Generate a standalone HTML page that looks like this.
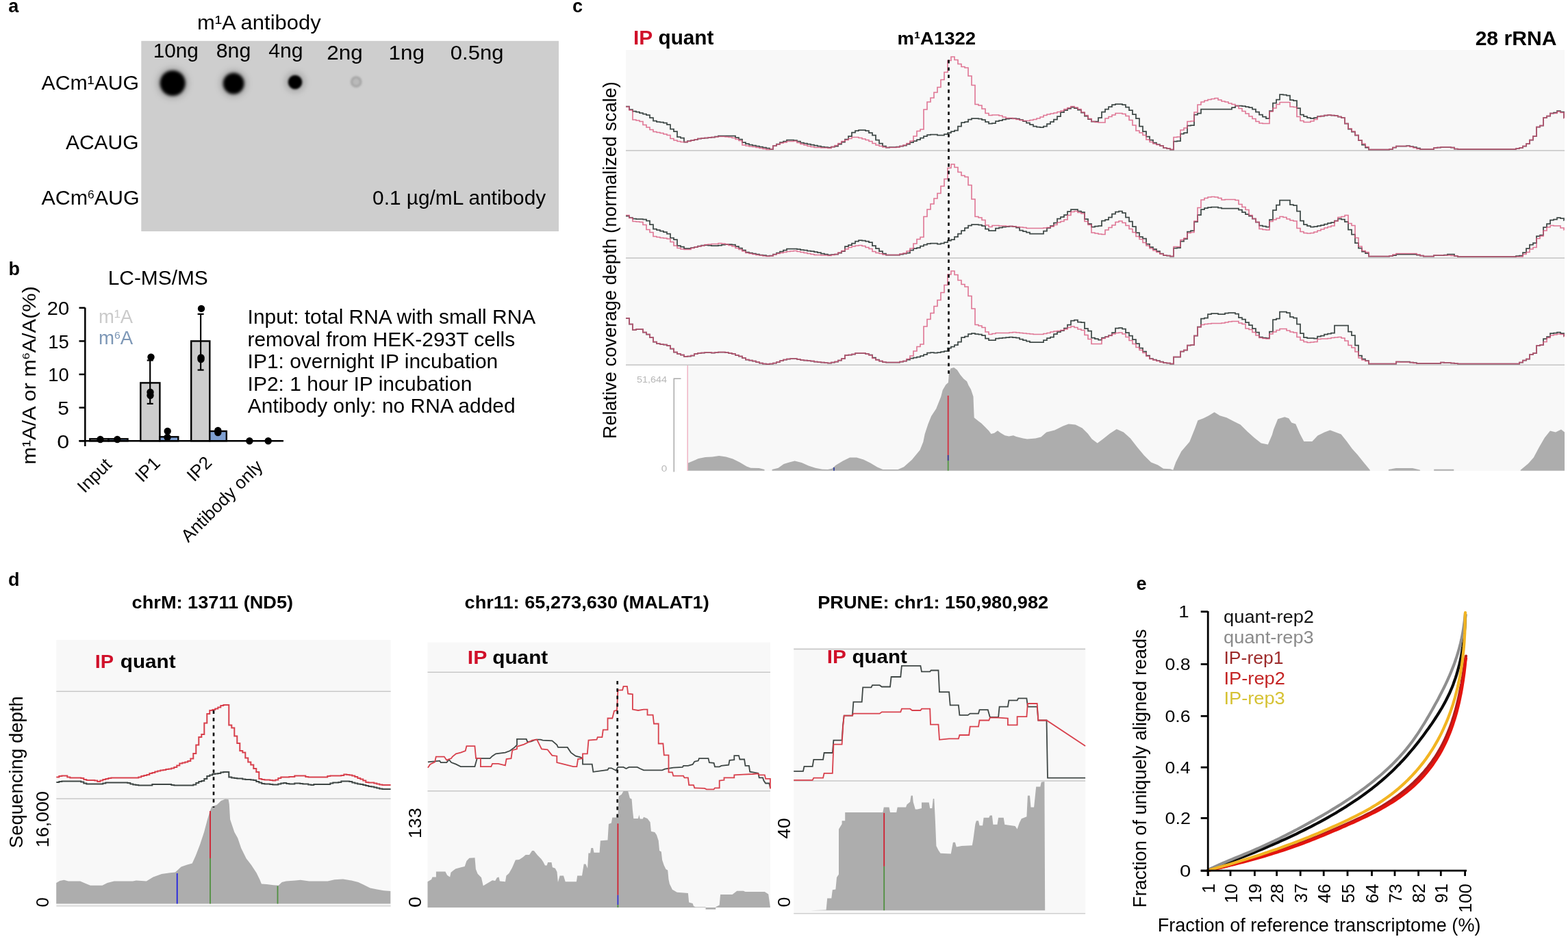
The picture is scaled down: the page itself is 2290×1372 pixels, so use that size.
<!DOCTYPE html>
<html><head><meta charset="utf-8"><style>
html,body{margin:0;padding:0;background:#fff;}
svg{display:block;font-family:"Liberation Sans", Arial, Helvetica, sans-serif;}
#w{width:2290px;height:1372px;overflow:hidden;}
</style></head><body><div id="w">
<svg width="2290" height="1372" viewBox="0 0 2290 1372">
<rect width="2290" height="1372" fill="#fff"/>
<text x="12.3" y="17.8" font-size="27" font-weight="bold" fill="#000" text-anchor="start" >a</text>
<text x="12.5" y="402" font-size="27" font-weight="bold" fill="#000" text-anchor="start" >b</text>
<text x="836" y="17.5" font-size="27" font-weight="bold" fill="#000" text-anchor="start" >c</text>
<text x="12" y="856" font-size="27" font-weight="bold" fill="#000" text-anchor="start" >d</text>
<text x="1659.5" y="861.5" font-size="27" font-weight="bold" fill="#000" text-anchor="start" >e</text>
<rect x="206.3" y="59.8" width="609.7" height="278.2" fill="#cecece"/>
<defs><filter id="blur1" x="-50%" y="-50%" width="200%" height="200%"><feGaussianBlur stdDeviation="2.3"/></filter><filter id="blur2" x="-50%" y="-50%" width="200%" height="200%"><feGaussianBlur stdDeviation="1.7"/></filter></defs>
<defs><filter id="blur3" x="-80%" y="-80%" width="260%" height="260%"><feGaussianBlur stdDeviation="4.5"/></filter></defs>
<circle cx="252.2" cy="121.5" r="23.6" fill="#000" fill-opacity="0.16" filter="url(#blur3)"/>
<circle cx="341.2" cy="122" r="20.4" fill="#000" fill-opacity="0.16" filter="url(#blur3)"/>
<circle cx="431" cy="120" r="15.3" fill="#000" fill-opacity="0.16" filter="url(#blur3)"/>
<circle cx="252.2" cy="121.5" r="18.6" fill="#000" filter="url(#blur1)"/>
<circle cx="341.2" cy="122" r="15.4" fill="#000" filter="url(#blur1)"/>
<circle cx="431" cy="120" r="10.3" fill="#000" filter="url(#blur2)"/>
<circle cx="520.2" cy="119.6" r="6.8" fill="#bababa" stroke="#9f9f9f" stroke-width="2.6" filter="url(#blur2)"/>
<text x="287.99" y="43.40" font-size="29.3" fill="#000" textLength="180.66" lengthAdjust="spacingAndGlyphs" >m¹A antibody</text>
<text x="223.67" y="84.30" font-size="28.8" fill="#000" textLength="66.26" lengthAdjust="spacingAndGlyphs" >10ng</text>
<text x="315.74" y="84.30" font-size="28.8" fill="#000" textLength="50.54" lengthAdjust="spacingAndGlyphs" >8ng</text>
<text x="392.20" y="84.30" font-size="28.8" fill="#000" textLength="50.27" lengthAdjust="spacingAndGlyphs" >4ng</text>
<text x="477.33" y="86.90" font-size="28.8" fill="#000" textLength="52.53" lengthAdjust="spacingAndGlyphs" >2ng</text>
<text x="567.54" y="86.90" font-size="28.8" fill="#000" textLength="52.41" lengthAdjust="spacingAndGlyphs" >1ng</text>
<text x="657.86" y="86.90" font-size="28.8" fill="#000" textLength="77.53" lengthAdjust="spacingAndGlyphs" >0.5ng</text>
<text x="60.50" y="130.70" font-size="29.2" fill="#000" textLength="142.58" lengthAdjust="spacingAndGlyphs" >ACm¹AUG</text>
<text x="95.90" y="217.60" font-size="29.2" fill="#000" textLength="106.74" lengthAdjust="spacingAndGlyphs" >ACAUG</text>
<text x="60.50" y="298.90" font-size="29.20" fill="#000" textLength="67.57" lengthAdjust="spacingAndGlyphs">ACm</text><text x="128.07" y="289.70" font-size="16.64" fill="#000" textLength="9.64" lengthAdjust="spacingAndGlyphs">6</text><text x="137.70" y="298.90" font-size="29.20" fill="#000" textLength="65.89" lengthAdjust="spacingAndGlyphs">AUG</text>
<text x="544.11" y="299.20" font-size="29.2" fill="#000" textLength="253.06" lengthAdjust="spacingAndGlyphs" >0.1 µg/mL antibody</text>
<text x="157.71" y="415.70" font-size="29.5" fill="#000" textLength="146.06" lengthAdjust="spacingAndGlyphs" >LC-MS/MS</text>
<line x1="124.3" y1="449.5" x2="124.3" y2="652" stroke="#000" stroke-width="2.5"/>
<line x1="115.5" y1="644.2" x2="414" y2="644.2" stroke="#000" stroke-width="2.5"/>
<line x1="115.5" y1="644.2" x2="124.3" y2="644.2" stroke="#000" stroke-width="2.5"/>
<line x1="115.5" y1="595.6" x2="124.3" y2="595.6" stroke="#000" stroke-width="2.5"/>
<line x1="115.5" y1="547.0" x2="124.3" y2="547.0" stroke="#000" stroke-width="2.5"/>
<line x1="115.5" y1="498.4" x2="124.3" y2="498.4" stroke="#000" stroke-width="2.5"/>
<line x1="115.5" y1="449.8" x2="124.3" y2="449.8" stroke="#000" stroke-width="2.5"/>
<text x="68.75" y="460.10" font-size="27.4" fill="#000" textLength="32.34" lengthAdjust="spacingAndGlyphs" >20</text>
<text x="70.23" y="508.70" font-size="27.4" fill="#000" textLength="30.63" lengthAdjust="spacingAndGlyphs" >15</text>
<text x="70.24" y="557.30" font-size="27.4" fill="#000" textLength="30.48" lengthAdjust="spacingAndGlyphs" >10</text>
<text x="84.30" y="605.90" font-size="27.4" fill="#000" textLength="16.63" lengthAdjust="spacingAndGlyphs" >5</text>
<text x="83.21" y="654.50" font-size="27.4" fill="#000" textLength="17.96" lengthAdjust="spacingAndGlyphs" >0</text>
<rect x="131.3" y="641.3" width="27.2" height="2.9" fill="#cdcdcd" stroke="#000" stroke-width="2.4"/>
<rect x="158.5" y="641.3" width="28.0" height="2.9" fill="#7fa0d2" stroke="#000" stroke-width="2.4"/>
<rect x="205.3" y="559.4" width="28.1" height="84.8" fill="#cdcdcd" stroke="#000" stroke-width="2.4"/>
<rect x="233.4" y="638.3" width="26.9" height="5.9" fill="#7fa0d2" stroke="#000" stroke-width="2.4"/>
<rect x="279.2" y="498.4" width="27.1" height="145.8" fill="#cdcdcd" stroke="#000" stroke-width="2.4"/>
<rect x="306.3" y="630.0" width="24.5" height="14.2" fill="#7fa0d2" stroke="#000" stroke-width="2.4"/>
<line x1="219.2" y1="526.5" x2="219.2" y2="589.9" stroke="#000" stroke-width="2.2"/>
<line x1="214.7" y1="526.5" x2="223.7" y2="526.5" stroke="#000" stroke-width="2.2"/>
<line x1="214.7" y1="589.9" x2="223.7" y2="589.9" stroke="#000" stroke-width="2.2"/>
<line x1="293.1" y1="458.9" x2="293.1" y2="540.6" stroke="#000" stroke-width="2.2"/>
<line x1="288.6" y1="458.9" x2="297.6" y2="458.9" stroke="#000" stroke-width="2.2"/>
<line x1="288.6" y1="540.6" x2="297.6" y2="540.6" stroke="#000" stroke-width="2.2"/>
<circle cx="146.5" cy="642" r="5.2" fill="#000"/>
<circle cx="171.3" cy="642" r="5.2" fill="#000"/>
<circle cx="220.5" cy="521.7" r="5.2" fill="#000"/>
<circle cx="219.5" cy="573" r="5.2" fill="#000"/>
<circle cx="219.5" cy="577.8" r="5.2" fill="#000"/>
<circle cx="244.7" cy="630" r="5.2" fill="#000"/>
<circle cx="244.5" cy="639" r="5.2" fill="#000"/>
<circle cx="294" cy="450.9" r="5.2" fill="#000"/>
<circle cx="293.5" cy="522.5" r="5.2" fill="#000"/>
<circle cx="293.5" cy="525" r="5.2" fill="#000"/>
<circle cx="318.3" cy="629" r="5.2" fill="#000"/>
<circle cx="318.3" cy="632" r="5.2" fill="#000"/>
<circle cx="364.4" cy="644.3" r="5.2" fill="#000"/>
<circle cx="391.7" cy="644.3" r="5.2" fill="#000"/>
<text x="143.92" y="472.00" font-size="27" fill="#cacaca" textLength="50.16" lengthAdjust="spacingAndGlyphs" >m¹A</text>
<text x="143.91" y="503.30" font-size="27.00" fill="#7d97b6" textLength="22.99" lengthAdjust="spacingAndGlyphs">m</text><text x="166.90" y="494.80" font-size="15.39" fill="#7d97b6" textLength="8.75" lengthAdjust="spacingAndGlyphs">6</text><text x="175.65" y="503.30" font-size="27.00" fill="#7d97b6" textLength="18.41" lengthAdjust="spacingAndGlyphs">A</text>
<g transform="translate(51.50,676.80) rotate(-90)"><text x="-2.00" y="0.00" font-size="27.00" fill="#000" textLength="153.65" lengthAdjust="spacingAndGlyphs">m¹A/A or m</text><text x="151.65" y="-8.51" font-size="15.39" fill="#000" textLength="9.74" lengthAdjust="spacingAndGlyphs">6</text><text x="161.40" y="0.00" font-size="27.00" fill="#000" textLength="97.31" lengthAdjust="spacingAndGlyphs">A/A(%)</text></g>
<text transform="translate(164.5,680.5) rotate(-45)" font-size="26" text-anchor="end">Input</text>
<text transform="translate(235.6,678.5) rotate(-45)" font-size="26" text-anchor="end">IP1</text>
<text transform="translate(311.1,677.5) rotate(-45)" font-size="26" text-anchor="end">IP2</text>
<text transform="translate(385.3,683) rotate(-45)" font-size="26" text-anchor="end">Antibody only</text>
<text x="361.61" y="472.90" font-size="28.6" fill="#000" textLength="420.62" lengthAdjust="spacingAndGlyphs" >Input: total RNA with small RNA</text>
<text x="361.45" y="505.70" font-size="28.6" fill="#000" textLength="390.84" lengthAdjust="spacingAndGlyphs" >removal from HEK-293T cells</text>
<text x="361.61" y="537.90" font-size="28.6" fill="#000" textLength="365.61" lengthAdjust="spacingAndGlyphs" >IP1: overnight IP incubation</text>
<text x="361.60" y="570.80" font-size="28.6" fill="#000" textLength="327.71" lengthAdjust="spacingAndGlyphs" >IP2: 1 hour IP incubation</text>
<text x="361.80" y="603.00" font-size="28.6" fill="#000" textLength="390.74" lengthAdjust="spacingAndGlyphs" >Antibody only: no RNA added</text>
<rect x="914" y="73" width="1371" height="461" fill="#f8f8f8"/>
<rect x="1004" y="534" width="1281" height="154" fill="#f8f8f8"/>
<text x="924.96" y="65.30" font-size="29" font-weight="bold" fill="#d0102a" textLength="28.23" lengthAdjust="spacingAndGlyphs" >IP</text>
<text x="961.51" y="65.30" font-size="29" font-weight="bold" fill="#000" textLength="80.94" lengthAdjust="spacingAndGlyphs" >quant</text>
<text x="1310.41" y="65.30" font-size="26.5" font-weight="bold" fill="#000" textLength="114.76" lengthAdjust="spacingAndGlyphs" >m¹A1322</text>
<text x="2154.65" y="65.50" font-size="29.7" font-weight="bold" fill="#000" textLength="118.73" lengthAdjust="spacingAndGlyphs" >28 rRNA</text>
<text transform="translate(900.20,639.10) rotate(-90)" x="-2.17" y="0" font-size="27.4" fill="#000" textLength="522.17" lengthAdjust="spacingAndGlyphs">Relative coverage depth (normalized scale)</text>
<line x1="914" y1="220" x2="2285" y2="220" stroke="#c4c4c4" stroke-width="1.6"/>
<line x1="914" y1="377" x2="2285" y2="377" stroke="#c4c4c4" stroke-width="1.6"/>
<line x1="914" y1="533.3" x2="2285" y2="533.3" stroke="#c4c4c4" stroke-width="1.6"/>
<polyline points="914.0,155.5 919.0,155.5 919.0,160.0 924.0,160.0 924.0,162.5 929.0,162.5 929.0,163.5 934.0,163.5 934.0,165.0 939.0,165.0 939.0,166.5 944.0,166.5 944.0,168.0 949.0,168.0 949.0,172.0 954.0,172.0 954.0,176.5 959.0,176.5 959.0,178.0 964.0,178.0 964.0,178.5 969.0,178.5 969.0,179.5 974.0,179.5 974.0,182.0 979.0,182.0 979.0,188.5 984.0,188.5 984.0,192.0 989.0,192.0 989.0,200.0 994.0,200.0 994.0,201.5 999.0,201.5 999.0,207.5 1004.0,207.5 1004.0,206.0 1009.0,206.0 1009.0,205.0 1014.0,205.0 1014.0,204.0 1019.0,204.0 1019.0,202.5 1024.0,202.5 1024.0,202.0 1029.0,202.0 1029.0,201.5 1034.0,201.5 1034.0,201.0 1039.0,201.0 1039.0,200.5 1044.0,200.5 1044.0,199.5 1049.0,199.5 1049.0,198.5 1074.0,198.5 1074.0,201.0 1079.0,201.0 1079.0,203.5 1084.0,203.5 1084.0,208.0 1089.0,208.0 1089.0,210.0 1094.0,210.0 1094.0,211.5 1099.0,211.5 1099.0,212.5 1104.0,212.5 1104.0,213.5 1109.0,213.5 1109.0,214.5 1114.0,214.5 1114.0,215.5 1119.0,215.5 1119.0,216.5 1124.0,216.5 1124.0,218.0 1129.0,218.0 1129.0,213.0 1134.0,213.0 1134.0,210.5 1139.0,210.5 1139.0,208.0 1144.0,208.0 1144.0,206.5 1149.0,206.5 1149.0,204.5 1159.0,204.5 1159.0,205.0 1164.0,205.0 1164.0,206.5 1169.0,206.5 1169.0,208.5 1174.0,208.5 1174.0,209.5 1179.0,209.5 1179.0,210.5 1184.0,210.5 1184.0,211.5 1189.0,211.5 1189.0,212.5 1194.0,212.5 1194.0,213.5 1199.0,213.5 1199.0,214.5 1204.0,214.5 1204.0,215.0 1209.0,215.0 1209.0,215.5 1214.0,215.5 1214.0,214.5 1219.0,214.5 1219.0,213.5 1224.0,213.5 1224.0,210.5 1229.0,210.5 1229.0,207.5 1234.0,207.5 1234.0,203.5 1239.0,203.5 1239.0,199.0 1244.0,199.0 1244.0,193.5 1249.0,193.5 1249.0,191.0 1254.0,191.0 1254.0,190.0 1264.0,190.0 1264.0,191.0 1269.0,191.0 1269.0,194.0 1274.0,194.0 1274.0,197.5 1279.0,197.5 1279.0,204.5 1284.0,204.5 1284.0,209.5 1289.0,209.5 1289.0,213.5 1294.0,213.5 1294.0,215.5 1299.0,215.5 1299.0,215.0 1309.0,215.0 1309.0,214.5 1314.0,214.5 1314.0,213.5 1319.0,213.5 1319.0,212.5 1324.0,212.5 1324.0,210.5 1329.0,210.5 1329.0,208.0 1334.0,208.0 1334.0,206.0 1339.0,206.0 1339.0,204.0 1344.0,204.0 1344.0,201.5 1349.0,201.5 1349.0,199.0 1354.0,199.0 1354.0,197.0 1359.0,197.0 1359.0,196.5 1369.0,196.5 1369.0,197.5 1379.0,197.5 1379.0,196.0 1384.0,196.0 1384.0,194.0 1389.0,194.0 1389.0,192.0 1394.0,192.0 1394.0,190.5 1399.0,190.5 1399.0,184.5 1404.0,184.5 1404.0,179.0 1409.0,179.0 1409.0,178.0 1414.0,178.0 1414.0,174.5 1419.0,174.5 1419.0,173.0 1429.0,173.0 1429.0,173.5 1434.0,173.5 1434.0,175.0 1439.0,175.0 1439.0,178.0 1444.0,178.0 1444.0,180.5 1449.0,180.5 1449.0,180.0 1454.0,180.0 1454.0,177.0 1459.0,177.0 1459.0,176.0 1464.0,176.0 1464.0,174.5 1469.0,174.5 1469.0,173.5 1474.0,173.5 1474.0,173.0 1484.0,173.0 1484.0,173.5 1489.0,173.5 1489.0,175.0 1494.0,175.0 1494.0,177.0 1499.0,177.0 1499.0,179.5 1504.0,179.5 1504.0,182.0 1509.0,182.0 1509.0,184.5 1514.0,184.5 1514.0,185.5 1519.0,185.5 1519.0,186.0 1524.0,186.0 1524.0,184.5 1529.0,184.5 1529.0,181.0 1534.0,181.0 1534.0,178.0 1539.0,178.0 1539.0,174.5 1544.0,174.5 1544.0,170.0 1549.0,170.0 1549.0,164.0 1554.0,164.0 1554.0,161.0 1559.0,161.0 1559.0,158.5 1564.0,158.5 1564.0,156.5 1569.0,156.5 1569.0,158.0 1574.0,158.0 1574.0,160.5 1579.0,160.5 1579.0,164.5 1584.0,164.5 1584.0,169.5 1589.0,169.5 1589.0,174.0 1594.0,174.0 1594.0,177.5 1604.0,177.5 1604.0,172.0 1609.0,172.0 1609.0,163.5 1614.0,163.5 1614.0,159.5 1619.0,159.5 1619.0,156.0 1624.0,156.0 1624.0,153.0 1629.0,153.0 1629.0,152.0 1639.0,152.0 1639.0,153.0 1644.0,153.0 1644.0,156.5 1649.0,156.5 1649.0,161.0 1654.0,161.0 1654.0,167.0 1659.0,167.0 1659.0,173.0 1664.0,173.0 1664.0,184.5 1669.0,184.5 1669.0,192.0 1674.0,192.0 1674.0,199.5 1679.0,199.5 1679.0,204.5 1684.0,204.5 1684.0,208.5 1689.0,208.5 1689.0,211.0 1694.0,211.0 1694.0,213.0 1699.0,213.0 1699.0,216.0 1704.0,216.0 1704.0,217.0 1709.0,217.0 1709.0,218.5 1714.0,218.5 1714.0,206.5 1719.0,206.5 1719.0,206.0 1724.0,206.0 1724.0,195.5 1729.0,195.5 1729.0,194.0 1734.0,194.0 1734.0,183.5 1739.0,183.5 1739.0,183.0 1744.0,183.0 1744.0,167.5 1749.0,167.5 1749.0,165.5 1754.0,165.5 1754.0,159.5 1799.0,159.5 1799.0,157.0 1804.0,157.0 1804.0,154.5 1814.0,154.5 1814.0,155.0 1819.0,155.0 1819.0,156.0 1824.0,156.0 1824.0,157.0 1829.0,157.0 1829.0,159.5 1834.0,159.5 1834.0,163.5 1839.0,163.5 1839.0,167.5 1844.0,167.5 1844.0,170.5 1849.0,170.5 1849.0,173.0 1854.0,173.0 1854.0,162.0 1859.0,162.0 1859.0,150.5 1864.0,150.5 1864.0,145.5 1869.0,145.5 1869.0,138.0 1874.0,138.0 1874.0,138.5 1879.0,138.5 1879.0,139.5 1884.0,139.5 1884.0,146.0 1889.0,146.0 1889.0,147.0 1894.0,147.0 1894.0,158.0 1899.0,158.0 1899.0,167.5 1904.0,167.5 1904.0,170.0 1909.0,170.0 1909.0,172.0 1914.0,172.0 1914.0,173.0 1919.0,173.0 1919.0,172.0 1924.0,172.0 1924.0,170.0 1929.0,170.0 1929.0,169.5 1934.0,169.5 1934.0,168.5 1939.0,168.5 1939.0,168.0 1944.0,168.0 1944.0,168.5 1949.0,168.5 1949.0,169.0 1954.0,169.0 1954.0,170.5 1959.0,170.5 1959.0,172.0 1964.0,172.0 1964.0,180.5 1969.0,180.5 1969.0,188.5 1974.0,188.5 1974.0,192.5 1979.0,192.5 1979.0,197.5 1984.0,197.5 1984.0,205.0 1989.0,205.0 1989.0,211.5 1994.0,211.5 1994.0,215.5 1999.0,215.5 1999.0,218.5 2029.0,218.5 2029.0,218.0 2034.0,218.0 2034.0,215.5 2039.0,215.5 2039.0,213.5 2054.0,213.5 2054.0,213.0 2059.0,213.0 2059.0,214.0 2064.0,214.0 2064.0,215.0 2069.0,215.0 2069.0,216.5 2074.0,216.5 2074.0,218.0 2094.0,218.0 2094.0,216.0 2099.0,216.0 2099.0,215.5 2104.0,215.5 2104.0,215.0 2119.0,215.0 2119.0,215.5 2124.0,215.5 2124.0,217.5 2129.0,217.5 2129.0,218.0 2214.0,218.0 2214.0,217.0 2219.0,217.0 2219.0,216.0 2224.0,216.0 2224.0,213.5 2229.0,213.5 2229.0,210.0 2234.0,210.0 2234.0,204.5 2239.0,204.5 2239.0,199.0 2244.0,199.0 2244.0,185.5 2249.0,185.5 2249.0,183.5 2254.0,183.5 2254.0,172.0 2259.0,172.0 2259.0,169.5 2264.0,169.5 2264.0,165.5 2269.0,165.5 2269.0,164.5 2274.0,164.5 2274.0,162.0 2279.0,162.0 2279.0,163.5 2284.0,163.5 2284.0,172.0 2284.1,172.0" fill="none" stroke="#3f4947" stroke-width="1.75" stroke-linejoin="miter" />
<polyline points="914.0,156.0 919.0,156.0 919.0,161.0 924.0,161.0 924.0,175.0 929.0,175.0 929.0,176.0 934.0,176.0 934.0,177.5 939.0,177.5 939.0,182.5 944.0,182.5 944.0,186.0 949.0,186.0 949.0,189.5 954.0,189.5 954.0,192.5 959.0,192.5 959.0,193.5 964.0,193.5 964.0,194.5 969.0,194.5 969.0,196.0 974.0,196.0 974.0,197.5 979.0,197.5 979.0,202.5 984.0,202.5 984.0,205.0 989.0,205.0 989.0,206.5 994.0,206.5 994.0,207.5 1004.0,207.5 1004.0,206.5 1009.0,206.5 1009.0,205.0 1014.0,205.0 1014.0,204.0 1019.0,204.0 1019.0,202.5 1024.0,202.5 1024.0,202.0 1029.0,202.0 1029.0,201.5 1034.0,201.5 1034.0,201.0 1039.0,201.0 1039.0,200.5 1044.0,200.5 1044.0,200.0 1049.0,200.0 1049.0,199.5 1059.0,199.5 1059.0,200.0 1064.0,200.0 1064.0,200.5 1069.0,200.5 1069.0,201.5 1074.0,201.5 1074.0,203.5 1079.0,203.5 1079.0,205.5 1084.0,205.5 1084.0,212.0 1089.0,212.0 1089.0,213.0 1094.0,213.0 1094.0,214.0 1099.0,214.0 1099.0,214.5 1104.0,214.5 1104.0,215.5 1109.0,215.5 1109.0,216.5 1114.0,216.5 1114.0,217.5 1119.0,217.5 1119.0,218.5 1124.0,218.5 1124.0,218.0 1129.0,218.0 1129.0,213.0 1134.0,213.0 1134.0,211.0 1139.0,211.0 1139.0,209.0 1144.0,209.0 1144.0,208.0 1149.0,208.0 1149.0,206.5 1159.0,206.5 1159.0,206.0 1164.0,206.0 1164.0,208.5 1169.0,208.5 1169.0,210.5 1174.0,210.5 1174.0,212.0 1179.0,212.0 1179.0,213.5 1184.0,213.5 1184.0,214.5 1189.0,214.5 1189.0,215.5 1199.0,215.5 1199.0,216.0 1209.0,216.0 1209.0,216.5 1214.0,216.5 1214.0,214.5 1219.0,214.5 1219.0,212.5 1224.0,212.5 1224.0,209.5 1229.0,209.5 1229.0,206.5 1234.0,206.5 1234.0,204.5 1239.0,204.5 1239.0,202.5 1244.0,202.5 1244.0,200.5 1254.0,200.5 1254.0,201.5 1259.0,201.5 1259.0,203.0 1264.0,203.0 1264.0,204.5 1269.0,204.5 1269.0,206.5 1274.0,206.5 1274.0,209.5 1279.0,209.5 1279.0,212.0 1284.0,212.0 1284.0,213.5 1289.0,213.5 1289.0,215.0 1294.0,215.0 1294.0,215.5 1309.0,215.5 1309.0,215.0 1314.0,215.0 1314.0,213.5 1319.0,213.5 1319.0,212.0 1324.0,212.0 1324.0,209.5 1329.0,209.5 1329.0,206.0 1334.0,206.0 1334.0,199.0 1339.0,199.0 1339.0,191.5 1344.0,191.5 1344.0,189.0 1349.0,189.0 1349.0,160.0 1354.0,160.0 1354.0,149.0 1359.0,149.0 1359.0,143.0 1364.0,143.0 1364.0,135.0 1369.0,135.0 1369.0,127.5 1374.0,127.5 1374.0,116.5 1379.0,116.5 1379.0,105.5 1384.0,105.5 1384.0,88.5 1389.0,88.5 1389.0,83.0 1394.0,83.0 1394.0,87.5 1399.0,87.5 1399.0,93.5 1404.0,93.5 1404.0,97.5 1409.0,97.5 1409.0,99.0 1414.0,99.0 1414.0,111.0 1419.0,111.0 1419.0,124.5 1424.0,124.5 1424.0,152.5 1429.0,152.5 1429.0,154.0 1434.0,154.0 1434.0,159.0 1439.0,159.0 1439.0,165.5 1444.0,165.5 1444.0,168.5 1449.0,168.5 1449.0,168.0 1459.0,168.0 1459.0,169.0 1464.0,169.0 1464.0,171.0 1469.0,171.0 1469.0,172.5 1479.0,172.5 1479.0,173.5 1484.0,173.5 1484.0,174.5 1489.0,174.5 1489.0,175.5 1494.0,175.5 1494.0,176.5 1504.0,176.5 1504.0,175.5 1509.0,175.5 1509.0,174.5 1514.0,174.5 1514.0,173.0 1519.0,173.0 1519.0,171.0 1524.0,171.0 1524.0,168.5 1529.0,168.5 1529.0,167.0 1534.0,167.0 1534.0,166.0 1539.0,166.0 1539.0,165.0 1544.0,165.0 1544.0,163.5 1549.0,163.5 1549.0,162.0 1554.0,162.0 1554.0,159.5 1559.0,159.5 1559.0,157.5 1564.0,157.5 1564.0,155.5 1569.0,155.5 1569.0,157.0 1574.0,157.0 1574.0,159.5 1579.0,159.5 1579.0,164.0 1584.0,164.0 1584.0,168.5 1589.0,168.5 1589.0,173.5 1594.0,173.5 1594.0,177.5 1599.0,177.5 1599.0,178.5 1604.0,178.5 1604.0,179.0 1614.0,179.0 1614.0,173.0 1619.0,173.0 1619.0,170.5 1624.0,170.5 1624.0,168.0 1629.0,168.0 1629.0,165.5 1639.0,165.5 1639.0,166.5 1644.0,166.5 1644.0,169.5 1649.0,169.5 1649.0,175.5 1654.0,175.5 1654.0,183.0 1659.0,183.0 1659.0,191.0 1664.0,191.0 1664.0,194.0 1669.0,194.0 1669.0,197.5 1674.0,197.5 1674.0,204.0 1679.0,204.0 1679.0,207.5 1684.0,207.5 1684.0,210.0 1689.0,210.0 1689.0,211.5 1694.0,211.5 1694.0,213.0 1699.0,213.0 1699.0,216.0 1704.0,216.0 1704.0,217.0 1709.0,217.0 1709.0,218.5 1714.0,218.5 1714.0,200.5 1719.0,200.5 1719.0,200.0 1724.0,200.0 1724.0,190.0 1729.0,190.0 1729.0,187.0 1734.0,187.0 1734.0,177.5 1739.0,177.5 1739.0,177.0 1744.0,177.0 1744.0,164.0 1749.0,164.0 1749.0,153.0 1754.0,153.0 1754.0,149.0 1759.0,149.0 1759.0,147.0 1764.0,147.0 1764.0,145.5 1769.0,145.5 1769.0,144.5 1774.0,144.5 1774.0,143.5 1779.0,143.5 1779.0,146.0 1784.0,146.0 1784.0,148.0 1789.0,148.0 1789.0,149.0 1794.0,149.0 1794.0,151.0 1799.0,151.0 1799.0,152.5 1804.0,152.5 1804.0,154.5 1809.0,154.5 1809.0,158.5 1814.0,158.5 1814.0,162.5 1819.0,162.5 1819.0,166.0 1824.0,166.0 1824.0,170.0 1829.0,170.0 1829.0,173.5 1834.0,173.5 1834.0,177.5 1839.0,177.5 1839.0,180.0 1844.0,180.0 1844.0,180.5 1854.0,180.5 1854.0,163.0 1859.0,163.0 1859.0,158.0 1864.0,158.0 1864.0,152.5 1869.0,152.5 1869.0,149.5 1884.0,149.5 1884.0,156.0 1889.0,156.0 1889.0,156.5 1894.0,156.5 1894.0,170.5 1899.0,170.5 1899.0,176.5 1904.0,176.5 1904.0,178.5 1914.0,178.5 1914.0,177.0 1919.0,177.0 1919.0,174.5 1924.0,174.5 1924.0,170.5 1929.0,170.5 1929.0,169.5 1934.0,169.5 1934.0,168.5 1939.0,168.5 1939.0,168.0 1944.0,168.0 1944.0,168.5 1949.0,168.5 1949.0,169.0 1954.0,169.0 1954.0,170.5 1959.0,170.5 1959.0,172.0 1964.0,172.0 1964.0,180.5 1969.0,180.5 1969.0,188.0 1974.0,188.0 1974.0,192.0 1979.0,192.0 1979.0,197.5 1984.0,197.5 1984.0,205.0 1989.0,205.0 1989.0,210.0 1994.0,210.0 1994.0,214.5 1999.0,214.5 1999.0,218.5 2029.0,218.5 2029.0,218.0 2034.0,218.0 2034.0,215.5 2039.0,215.5 2039.0,213.5 2059.0,213.5 2059.0,214.5 2064.0,214.5 2064.0,216.0 2069.0,216.0 2069.0,217.5 2074.0,217.5 2074.0,218.0 2094.0,218.0 2094.0,216.0 2099.0,216.0 2099.0,215.5 2104.0,215.5 2104.0,215.0 2119.0,215.0 2119.0,215.5 2124.0,215.5 2124.0,217.5 2129.0,217.5 2129.0,218.0 2214.0,218.0 2214.0,217.0 2219.0,217.0 2219.0,216.0 2224.0,216.0 2224.0,213.5 2229.0,213.5 2229.0,210.0 2234.0,210.0 2234.0,204.5 2239.0,204.5 2239.0,199.0 2244.0,199.0 2244.0,185.5 2249.0,185.5 2249.0,183.5 2254.0,183.5 2254.0,172.0 2259.0,172.0 2259.0,169.5 2264.0,169.5 2264.0,165.5 2274.0,165.5 2274.0,163.0 2279.0,163.0 2279.0,164.5 2284.0,164.5 2284.0,173.0 2284.1,173.0" fill="none" stroke="#d9587e" stroke-width="1.6" stroke-linejoin="miter" stroke-opacity="0.82"/>
<polyline points="914.0,315.5 919.0,315.5 919.0,318.0 924.0,318.0 924.0,319.5 929.0,319.5 929.0,320.0 939.0,320.0 939.0,320.5 944.0,320.5 944.0,322.5 949.0,322.5 949.0,328.0 954.0,328.0 954.0,334.5 959.0,334.5 959.0,336.0 964.0,336.0 964.0,337.5 969.0,337.5 969.0,339.0 974.0,339.0 974.0,341.5 979.0,341.5 979.0,347.5 984.0,347.5 984.0,350.0 989.0,350.0 989.0,359.0 994.0,359.0 994.0,360.5 999.0,360.5 999.0,363.0 1009.0,363.0 1009.0,362.0 1014.0,362.0 1014.0,361.0 1019.0,361.0 1019.0,359.5 1024.0,359.5 1024.0,358.5 1029.0,358.5 1029.0,358.0 1034.0,358.0 1034.0,358.5 1039.0,358.5 1039.0,359.0 1049.0,359.0 1049.0,358.5 1054.0,358.5 1054.0,357.5 1059.0,357.5 1059.0,357.0 1069.0,357.0 1069.0,357.5 1074.0,357.5 1074.0,360.0 1079.0,360.0 1079.0,362.5 1084.0,362.5 1084.0,365.5 1089.0,365.5 1089.0,368.5 1094.0,368.5 1094.0,369.5 1099.0,369.5 1099.0,370.5 1104.0,370.5 1104.0,371.5 1109.0,371.5 1109.0,372.5 1114.0,372.5 1114.0,373.0 1119.0,373.0 1119.0,374.0 1124.0,374.0 1124.0,373.5 1129.0,373.5 1129.0,371.5 1134.0,371.5 1134.0,369.5 1139.0,369.5 1139.0,367.5 1144.0,367.5 1144.0,365.5 1149.0,365.5 1149.0,363.5 1164.0,363.5 1164.0,364.0 1169.0,364.0 1169.0,365.0 1174.0,365.0 1174.0,365.5 1179.0,365.5 1179.0,366.5 1184.0,366.5 1184.0,367.0 1189.0,367.0 1189.0,368.0 1194.0,368.0 1194.0,369.0 1199.0,369.0 1199.0,370.5 1204.0,370.5 1204.0,371.5 1209.0,371.5 1209.0,372.5 1214.0,372.5 1214.0,372.0 1219.0,372.0 1219.0,371.5 1224.0,371.5 1224.0,369.5 1229.0,369.5 1229.0,367.0 1234.0,367.0 1234.0,360.0 1239.0,360.0 1239.0,358.0 1244.0,358.0 1244.0,355.5 1249.0,355.5 1249.0,352.5 1254.0,352.5 1254.0,351.0 1259.0,351.0 1259.0,351.5 1264.0,351.5 1264.0,352.5 1269.0,352.5 1269.0,354.0 1274.0,354.0 1274.0,359.0 1279.0,359.0 1279.0,363.0 1284.0,363.0 1284.0,367.0 1289.0,367.0 1289.0,370.5 1294.0,370.5 1294.0,372.5 1314.0,372.5 1314.0,371.5 1319.0,371.5 1319.0,370.5 1324.0,370.5 1324.0,369.5 1329.0,369.5 1329.0,365.5 1334.0,365.5 1334.0,363.0 1339.0,363.0 1339.0,362.0 1344.0,362.0 1344.0,359.5 1349.0,359.5 1349.0,357.5 1354.0,357.5 1354.0,356.0 1359.0,356.0 1359.0,355.5 1369.0,355.5 1369.0,356.5 1374.0,356.5 1374.0,355.5 1379.0,355.5 1379.0,354.0 1384.0,354.0 1384.0,351.5 1389.0,351.5 1389.0,350.0 1394.0,350.0 1394.0,346.0 1399.0,346.0 1399.0,341.5 1404.0,341.5 1404.0,337.0 1409.0,337.0 1409.0,333.0 1414.0,333.0 1414.0,329.5 1419.0,329.5 1419.0,328.0 1429.0,328.0 1429.0,328.5 1434.0,328.5 1434.0,330.0 1439.0,330.0 1439.0,334.5 1444.0,334.5 1444.0,337.0 1454.0,337.0 1454.0,333.5 1459.0,333.5 1459.0,332.5 1464.0,332.5 1464.0,331.5 1469.0,331.5 1469.0,331.0 1474.0,331.0 1474.0,330.5 1479.0,330.5 1479.0,331.0 1484.0,331.0 1484.0,332.5 1489.0,332.5 1489.0,336.5 1494.0,336.5 1494.0,338.0 1499.0,338.0 1499.0,339.5 1504.0,339.5 1504.0,341.5 1524.0,341.5 1524.0,337.5 1529.0,337.5 1529.0,333.0 1534.0,333.0 1534.0,330.0 1539.0,330.0 1539.0,325.5 1544.0,325.5 1544.0,319.5 1549.0,319.5 1549.0,317.0 1554.0,317.0 1554.0,314.0 1559.0,314.0 1559.0,309.0 1564.0,309.0 1564.0,306.0 1574.0,306.0 1574.0,308.5 1579.0,308.5 1579.0,310.0 1584.0,310.0 1584.0,320.0 1589.0,320.0 1589.0,327.0 1594.0,327.0 1594.0,331.5 1599.0,331.5 1599.0,330.5 1604.0,330.5 1604.0,330.0 1609.0,330.0 1609.0,322.5 1614.0,322.5 1614.0,321.0 1619.0,321.0 1619.0,317.5 1624.0,317.5 1624.0,312.5 1629.0,312.5 1629.0,309.5 1634.0,309.5 1634.0,308.5 1639.0,308.5 1639.0,311.0 1644.0,311.0 1644.0,317.5 1649.0,317.5 1649.0,323.5 1654.0,323.5 1654.0,331.0 1659.0,331.0 1659.0,340.0 1664.0,340.0 1664.0,346.0 1669.0,346.0 1669.0,348.5 1674.0,348.5 1674.0,356.5 1679.0,356.5 1679.0,361.0 1684.0,361.0 1684.0,364.0 1689.0,364.0 1689.0,367.0 1694.0,367.0 1694.0,370.5 1699.0,370.5 1699.0,373.0 1704.0,373.0 1704.0,373.5 1709.0,373.5 1709.0,374.5 1714.0,374.5 1714.0,362.5 1719.0,362.5 1719.0,362.0 1724.0,362.0 1724.0,352.5 1729.0,352.5 1729.0,349.0 1734.0,349.0 1734.0,338.5 1739.0,338.5 1739.0,337.0 1744.0,337.0 1744.0,324.0 1749.0,324.0 1749.0,314.0 1754.0,314.0 1754.0,306.0 1759.0,306.0 1759.0,304.0 1764.0,304.0 1764.0,303.0 1769.0,303.0 1769.0,302.5 1779.0,302.5 1779.0,303.5 1784.0,303.5 1784.0,304.5 1809.0,304.5 1809.0,306.5 1814.0,306.5 1814.0,310.0 1819.0,310.0 1819.0,313.0 1824.0,313.0 1824.0,315.5 1829.0,315.5 1829.0,319.5 1834.0,319.5 1834.0,324.5 1839.0,324.5 1839.0,329.5 1844.0,329.5 1844.0,330.5 1849.0,330.5 1849.0,331.5 1854.0,331.5 1854.0,321.0 1859.0,321.0 1859.0,307.0 1864.0,307.0 1864.0,299.5 1869.0,299.5 1869.0,292.5 1884.0,292.5 1884.0,299.0 1889.0,299.0 1889.0,300.0 1894.0,300.0 1894.0,308.5 1899.0,308.5 1899.0,322.5 1904.0,322.5 1904.0,328.0 1909.0,328.0 1909.0,330.0 1914.0,330.0 1914.0,331.5 1919.0,331.5 1919.0,331.0 1924.0,331.0 1924.0,330.0 1929.0,330.0 1929.0,329.0 1934.0,329.0 1934.0,327.5 1939.0,327.5 1939.0,326.0 1944.0,326.0 1944.0,325.0 1949.0,325.0 1949.0,322.5 1954.0,322.5 1954.0,319.5 1959.0,319.5 1959.0,320.5 1964.0,320.5 1964.0,324.0 1969.0,324.0 1969.0,335.5 1974.0,335.5 1974.0,342.5 1979.0,342.5 1979.0,355.0 1984.0,355.0 1984.0,362.5 1989.0,362.5 1989.0,367.5 1994.0,367.5 1994.0,370.0 1999.0,370.0 1999.0,374.5 2029.0,374.5 2029.0,374.0 2034.0,374.0 2034.0,373.0 2039.0,373.0 2039.0,371.5 2069.0,371.5 2069.0,372.5 2074.0,372.5 2074.0,373.5 2079.0,373.5 2079.0,374.5 2094.0,374.5 2094.0,373.0 2109.0,373.0 2109.0,372.5 2114.0,372.5 2114.0,371.5 2124.0,371.5 2124.0,374.0 2129.0,374.0 2129.0,375.0 2214.0,375.0 2214.0,374.0 2219.0,374.0 2219.0,373.5 2224.0,373.5 2224.0,369.0 2229.0,369.0 2229.0,363.0 2234.0,363.0 2234.0,357.5 2239.0,357.5 2239.0,355.0 2244.0,355.0 2244.0,345.0 2249.0,345.0 2249.0,343.5 2254.0,343.5 2254.0,332.0 2259.0,332.0 2259.0,327.0 2264.0,327.0 2264.0,321.5 2269.0,321.5 2269.0,320.5 2274.0,320.5 2274.0,318.0 2279.0,318.0 2279.0,319.0 2284.0,319.0 2284.0,322.0 2284.4,322.0" fill="none" stroke="#3f4947" stroke-width="1.75" stroke-linejoin="miter" />
<polyline points="914.0,314.5 919.0,314.5 919.0,318.5 924.0,318.5 924.0,323.5 929.0,323.5 929.0,324.0 934.0,324.0 934.0,324.5 939.0,324.5 939.0,328.5 944.0,328.5 944.0,335.5 949.0,335.5 949.0,339.5 954.0,339.5 954.0,345.5 959.0,345.5 959.0,346.5 964.0,346.5 964.0,347.5 969.0,347.5 969.0,348.0 974.0,348.0 974.0,349.0 979.0,349.0 979.0,353.5 984.0,353.5 984.0,359.0 989.0,359.0 989.0,362.5 994.0,362.5 994.0,364.0 999.0,364.0 999.0,364.5 1009.0,364.5 1009.0,362.5 1014.0,362.5 1014.0,361.0 1019.0,361.0 1019.0,360.0 1024.0,360.0 1024.0,359.0 1029.0,359.0 1029.0,357.5 1034.0,357.5 1034.0,357.0 1039.0,357.0 1039.0,356.5 1049.0,356.5 1049.0,355.5 1054.0,355.5 1054.0,356.0 1059.0,356.0 1059.0,357.0 1064.0,357.0 1064.0,358.5 1069.0,358.5 1069.0,360.0 1074.0,360.0 1074.0,362.5 1079.0,362.5 1079.0,364.5 1084.0,364.5 1084.0,367.0 1089.0,367.0 1089.0,369.5 1094.0,369.5 1094.0,370.5 1099.0,370.5 1099.0,371.5 1104.0,371.5 1104.0,372.5 1109.0,372.5 1109.0,373.0 1114.0,373.0 1114.0,374.0 1119.0,374.0 1119.0,374.5 1124.0,374.5 1124.0,374.0 1129.0,374.0 1129.0,372.0 1134.0,372.0 1134.0,370.5 1139.0,370.5 1139.0,369.5 1144.0,369.5 1144.0,368.5 1149.0,368.5 1149.0,367.5 1154.0,367.5 1154.0,367.0 1159.0,367.0 1159.0,366.5 1164.0,366.5 1164.0,367.5 1169.0,367.5 1169.0,368.5 1174.0,368.5 1174.0,369.5 1179.0,369.5 1179.0,370.5 1184.0,370.5 1184.0,371.5 1189.0,371.5 1189.0,372.5 1199.0,372.5 1199.0,373.0 1209.0,373.0 1209.0,373.5 1214.0,373.5 1214.0,372.5 1219.0,372.5 1219.0,371.5 1224.0,371.5 1224.0,369.0 1229.0,369.0 1229.0,366.5 1234.0,366.5 1234.0,364.0 1239.0,364.0 1239.0,361.5 1244.0,361.5 1244.0,360.0 1249.0,360.0 1249.0,359.0 1254.0,359.0 1254.0,358.5 1259.0,358.5 1259.0,359.5 1264.0,359.5 1264.0,361.5 1269.0,361.5 1269.0,363.5 1274.0,363.5 1274.0,367.5 1279.0,367.5 1279.0,369.5 1284.0,369.5 1284.0,370.5 1289.0,370.5 1289.0,372.0 1294.0,372.0 1294.0,372.5 1314.0,372.5 1314.0,371.0 1319.0,371.0 1319.0,370.0 1324.0,370.0 1324.0,367.0 1329.0,367.0 1329.0,363.0 1334.0,363.0 1334.0,356.0 1339.0,356.0 1339.0,349.5 1344.0,349.5 1344.0,346.5 1349.0,346.5 1349.0,316.5 1354.0,316.5 1354.0,306.0 1359.0,306.0 1359.0,298.0 1364.0,298.0 1364.0,290.0 1369.0,290.0 1369.0,282.5 1374.0,282.5 1374.0,272.0 1379.0,272.0 1379.0,261.5 1384.0,261.5 1384.0,245.5 1389.0,245.5 1389.0,240.0 1394.0,240.0 1394.0,244.5 1399.0,244.5 1399.0,251.5 1404.0,251.5 1404.0,256.5 1409.0,256.5 1409.0,258.5 1414.0,258.5 1414.0,270.5 1419.0,270.5 1419.0,291.0 1424.0,291.0 1424.0,316.5 1429.0,316.5 1429.0,318.0 1434.0,318.0 1434.0,321.5 1439.0,321.5 1439.0,329.0 1444.0,329.0 1444.0,331.5 1449.0,331.5 1449.0,329.5 1459.0,329.5 1459.0,330.0 1469.0,330.0 1469.0,330.5 1479.0,330.5 1479.0,331.0 1484.0,331.0 1484.0,331.5 1489.0,331.5 1489.0,332.0 1494.0,332.0 1494.0,332.5 1499.0,332.5 1499.0,333.5 1524.0,333.5 1524.0,333.0 1529.0,333.0 1529.0,332.5 1534.0,332.5 1534.0,331.0 1539.0,331.0 1539.0,328.5 1544.0,328.5 1544.0,325.0 1549.0,325.0 1549.0,323.5 1554.0,323.5 1554.0,321.0 1559.0,321.0 1559.0,314.5 1564.0,314.5 1564.0,309.5 1569.0,309.5 1569.0,308.5 1574.0,308.5 1574.0,310.5 1579.0,310.5 1579.0,312.0 1584.0,312.0 1584.0,323.5 1589.0,323.5 1589.0,328.5 1594.0,328.5 1594.0,340.0 1599.0,340.0 1599.0,341.0 1604.0,341.0 1604.0,342.0 1609.0,342.0 1609.0,342.5 1614.0,342.5 1614.0,336.0 1619.0,336.0 1619.0,332.5 1624.0,332.5 1624.0,329.0 1629.0,329.0 1629.0,324.5 1634.0,324.5 1634.0,323.0 1639.0,323.0 1639.0,325.5 1644.0,325.5 1644.0,329.5 1649.0,329.5 1649.0,334.5 1654.0,334.5 1654.0,339.5 1659.0,339.5 1659.0,345.5 1664.0,345.5 1664.0,349.5 1669.0,349.5 1669.0,354.5 1674.0,354.5 1674.0,359.0 1679.0,359.0 1679.0,363.0 1684.0,363.0 1684.0,366.0 1689.0,366.0 1689.0,368.5 1694.0,368.5 1694.0,371.0 1699.0,371.0 1699.0,373.0 1704.0,373.0 1704.0,373.5 1709.0,373.5 1709.0,374.5 1714.0,374.5 1714.0,360.5 1724.0,360.5 1724.0,350.5 1729.0,350.5 1729.0,348.0 1734.0,348.0 1734.0,340.5 1739.0,340.5 1739.0,339.5 1744.0,339.5 1744.0,323.0 1749.0,323.0 1749.0,303.5 1754.0,303.5 1754.0,292.0 1759.0,292.0 1759.0,289.5 1764.0,289.5 1764.0,288.0 1769.0,288.0 1769.0,287.5 1774.0,287.5 1774.0,288.0 1779.0,288.0 1779.0,289.5 1784.0,289.5 1784.0,292.0 1789.0,292.0 1789.0,291.5 1804.0,291.5 1804.0,292.5 1809.0,292.5 1809.0,298.5 1814.0,298.5 1814.0,302.5 1819.0,302.5 1819.0,306.5 1824.0,306.5 1824.0,314.5 1829.0,314.5 1829.0,319.5 1834.0,319.5 1834.0,324.5 1839.0,324.5 1839.0,334.5 1844.0,334.5 1844.0,335.5 1849.0,335.5 1849.0,336.0 1854.0,336.0 1854.0,323.5 1859.0,323.5 1859.0,321.0 1864.0,321.0 1864.0,319.0 1869.0,319.0 1869.0,316.5 1874.0,316.5 1874.0,317.5 1879.0,317.5 1879.0,320.0 1884.0,320.0 1884.0,322.0 1889.0,322.0 1889.0,323.0 1894.0,323.0 1894.0,333.5 1899.0,333.5 1899.0,338.5 1904.0,338.5 1904.0,340.5 1909.0,340.5 1909.0,341.0 1914.0,341.0 1914.0,340.5 1919.0,340.5 1919.0,339.0 1924.0,339.0 1924.0,337.0 1929.0,337.0 1929.0,335.0 1934.0,335.0 1934.0,333.0 1939.0,333.0 1939.0,331.5 1944.0,331.5 1944.0,330.0 1949.0,330.0 1949.0,323.0 1954.0,323.0 1954.0,317.5 1959.0,317.5 1959.0,316.5 1964.0,316.5 1964.0,314.5 1969.0,314.5 1969.0,326.5 1974.0,326.5 1974.0,329.5 1979.0,329.5 1979.0,347.5 1984.0,347.5 1984.0,360.0 1989.0,360.0 1989.0,366.5 1994.0,366.5 1994.0,368.5 1999.0,368.5 1999.0,374.5 2029.0,374.5 2029.0,374.0 2034.0,374.0 2034.0,372.0 2039.0,372.0 2039.0,370.5 2069.0,370.5 2069.0,372.0 2074.0,372.0 2074.0,373.5 2079.0,373.5 2079.0,374.5 2094.0,374.5 2094.0,373.0 2119.0,373.0 2119.0,373.5 2124.0,373.5 2124.0,374.0 2129.0,374.0 2129.0,375.0 2224.0,375.0 2224.0,371.5 2229.0,371.5 2229.0,368.5 2234.0,368.5 2234.0,364.0 2239.0,364.0 2239.0,361.5 2244.0,361.5 2244.0,348.5 2249.0,348.5 2249.0,345.0 2254.0,345.0 2254.0,337.0 2259.0,337.0 2259.0,332.0 2264.0,332.0 2264.0,329.5 2269.0,329.5 2269.0,330.0 2279.0,330.0 2279.0,333.0 2284.0,333.0 2284.0,336.0 2284.4,336.0" fill="none" stroke="#d9587e" stroke-width="1.6" stroke-linejoin="miter" stroke-opacity="0.82"/>
<polyline points="914.0,465.0 919.0,465.0 919.0,473.5 924.0,473.5 924.0,482.0 929.0,482.0 929.0,481.0 939.0,481.0 939.0,485.5 944.0,485.5 944.0,488.5 949.0,488.5 949.0,493.0 954.0,493.0 954.0,499.5 959.0,499.5 959.0,502.0 964.0,502.0 964.0,503.0 969.0,503.0 969.0,503.5 974.0,503.5 974.0,505.0 979.0,505.0 979.0,509.5 984.0,509.5 984.0,514.5 989.0,514.5 989.0,517.0 994.0,517.0 994.0,518.5 999.0,518.5 999.0,521.0 1004.0,521.0 1004.0,520.5 1009.0,520.5 1009.0,519.5 1014.0,519.5 1014.0,517.0 1019.0,517.0 1019.0,516.0 1024.0,516.0 1024.0,515.5 1029.0,515.5 1029.0,515.0 1039.0,515.0 1039.0,515.5 1044.0,515.5 1044.0,515.0 1049.0,515.0 1049.0,514.5 1059.0,514.5 1059.0,515.0 1064.0,515.0 1064.0,516.0 1069.0,516.0 1069.0,517.0 1074.0,517.0 1074.0,519.0 1079.0,519.0 1079.0,520.5 1084.0,520.5 1084.0,523.0 1089.0,523.0 1089.0,525.5 1094.0,525.5 1094.0,526.5 1099.0,526.5 1099.0,527.5 1104.0,527.5 1104.0,529.0 1109.0,529.0 1109.0,530.5 1114.0,530.5 1114.0,531.5 1119.0,531.5 1119.0,532.0 1124.0,532.0 1124.0,531.5 1129.0,531.5 1129.0,530.5 1134.0,530.5 1134.0,529.0 1139.0,529.0 1139.0,527.0 1144.0,527.0 1144.0,525.5 1149.0,525.5 1149.0,524.5 1154.0,524.5 1154.0,524.0 1164.0,524.0 1164.0,525.0 1169.0,525.0 1169.0,526.0 1174.0,526.0 1174.0,526.5 1179.0,526.5 1179.0,527.0 1184.0,527.0 1184.0,527.5 1189.0,527.5 1189.0,528.5 1194.0,528.5 1194.0,529.0 1199.0,529.0 1199.0,529.5 1204.0,529.5 1204.0,530.0 1209.0,530.0 1209.0,530.5 1214.0,530.5 1214.0,529.5 1219.0,529.5 1219.0,528.5 1224.0,528.5 1224.0,526.5 1229.0,526.5 1229.0,524.0 1234.0,524.0 1234.0,519.0 1239.0,519.0 1239.0,518.5 1244.0,518.5 1244.0,517.5 1249.0,517.5 1249.0,516.0 1264.0,516.0 1264.0,517.0 1269.0,517.0 1269.0,518.5 1274.0,518.5 1274.0,522.5 1279.0,522.5 1279.0,525.5 1284.0,525.5 1284.0,527.5 1289.0,527.5 1289.0,529.0 1294.0,529.0 1294.0,529.5 1314.0,529.5 1314.0,528.5 1319.0,528.5 1319.0,527.5 1324.0,527.5 1324.0,525.5 1329.0,525.5 1329.0,523.5 1334.0,523.5 1334.0,522.5 1339.0,522.5 1339.0,521.5 1344.0,521.5 1344.0,520.0 1349.0,520.0 1349.0,518.0 1354.0,518.0 1354.0,515.5 1359.0,515.5 1359.0,515.0 1364.0,515.0 1364.0,515.5 1369.0,515.5 1369.0,515.0 1374.0,515.0 1374.0,514.0 1379.0,514.0 1379.0,513.0 1384.0,513.0 1384.0,508.5 1389.0,508.5 1389.0,506.5 1394.0,506.5 1394.0,504.0 1399.0,504.0 1399.0,499.5 1404.0,499.5 1404.0,493.0 1409.0,493.0 1409.0,491.5 1414.0,491.5 1414.0,488.0 1419.0,488.0 1419.0,487.0 1424.0,487.0 1424.0,488.0 1429.0,488.0 1429.0,488.5 1434.0,488.5 1434.0,490.0 1439.0,490.0 1439.0,494.5 1444.0,494.5 1444.0,497.0 1454.0,497.0 1454.0,494.5 1459.0,494.5 1459.0,494.0 1464.0,494.0 1464.0,493.5 1469.0,493.5 1469.0,493.0 1474.0,493.0 1474.0,492.5 1479.0,492.5 1479.0,493.0 1484.0,493.0 1484.0,493.5 1489.0,493.5 1489.0,495.5 1494.0,495.5 1494.0,497.0 1499.0,497.0 1499.0,498.5 1504.0,498.5 1504.0,500.0 1524.0,500.0 1524.0,497.0 1529.0,497.0 1529.0,494.0 1534.0,494.0 1534.0,492.5 1539.0,492.5 1539.0,488.0 1544.0,488.0 1544.0,485.0 1549.0,485.0 1549.0,483.0 1554.0,483.0 1554.0,479.5 1559.0,479.5 1559.0,474.5 1564.0,474.5 1564.0,468.5 1569.0,468.5 1569.0,467.5 1574.0,467.5 1574.0,470.5 1579.0,470.5 1579.0,471.0 1584.0,471.0 1584.0,480.0 1589.0,480.0 1589.0,483.5 1594.0,483.5 1594.0,493.5 1599.0,493.5 1599.0,495.0 1604.0,495.0 1604.0,496.5 1609.0,496.5 1609.0,493.5 1614.0,493.5 1614.0,492.0 1619.0,492.0 1619.0,490.0 1624.0,490.0 1624.0,486.0 1629.0,486.0 1629.0,479.5 1634.0,479.5 1634.0,479.0 1639.0,479.0 1639.0,480.5 1644.0,480.5 1644.0,486.0 1649.0,486.0 1649.0,490.5 1654.0,490.5 1654.0,496.0 1659.0,496.0 1659.0,502.0 1664.0,502.0 1664.0,508.5 1669.0,508.5 1669.0,513.5 1674.0,513.5 1674.0,519.5 1679.0,519.5 1679.0,524.0 1684.0,524.0 1684.0,525.5 1689.0,525.5 1689.0,527.0 1694.0,527.0 1694.0,528.5 1699.0,528.5 1699.0,530.0 1704.0,530.0 1704.0,530.5 1709.0,530.5 1709.0,531.5 1714.0,531.5 1714.0,521.5 1724.0,521.5 1724.0,513.5 1729.0,513.5 1729.0,511.5 1734.0,511.5 1734.0,504.5 1739.0,504.5 1739.0,504.0 1744.0,504.0 1744.0,490.5 1749.0,490.5 1749.0,477.5 1754.0,477.5 1754.0,465.5 1759.0,465.5 1759.0,464.5 1764.0,464.5 1764.0,459.0 1769.0,459.0 1769.0,458.0 1779.0,458.0 1779.0,459.0 1789.0,459.0 1789.0,457.5 1794.0,457.5 1794.0,457.0 1804.0,457.0 1804.0,458.5 1809.0,458.5 1809.0,464.0 1814.0,464.0 1814.0,466.5 1819.0,466.5 1819.0,471.0 1824.0,471.0 1824.0,475.0 1829.0,475.0 1829.0,480.0 1834.0,480.0 1834.0,485.5 1839.0,485.5 1839.0,492.5 1844.0,492.5 1844.0,493.5 1849.0,493.5 1849.0,494.0 1854.0,494.0 1854.0,484.5 1859.0,484.5 1859.0,467.0 1864.0,467.0 1864.0,465.5 1869.0,465.5 1869.0,455.5 1879.0,455.5 1879.0,457.0 1884.0,457.0 1884.0,463.0 1889.0,463.0 1889.0,464.5 1894.0,464.5 1894.0,473.5 1899.0,473.5 1899.0,487.0 1904.0,487.0 1904.0,493.0 1909.0,493.0 1909.0,494.0 1919.0,494.0 1919.0,494.5 1924.0,494.5 1924.0,491.5 1929.0,491.5 1929.0,490.5 1934.0,490.5 1934.0,488.5 1939.0,488.5 1939.0,487.5 1944.0,487.5 1944.0,486.5 1949.0,486.5 1949.0,475.5 1969.0,475.5 1969.0,484.5 1974.0,484.5 1974.0,490.0 1979.0,490.0 1979.0,504.5 1984.0,504.5 1984.0,519.5 1989.0,519.5 1989.0,524.5 1994.0,524.5 1994.0,527.0 1999.0,527.0 1999.0,531.5 2039.0,531.5 2039.0,528.5 2059.0,528.5 2059.0,529.5 2064.0,529.5 2064.0,530.0 2069.0,530.0 2069.0,531.0 2104.0,531.0 2104.0,529.5 2109.0,529.5 2109.0,530.0 2119.0,530.0 2119.0,530.5 2124.0,530.5 2124.0,531.0 2129.0,531.0 2129.0,531.5 2219.0,531.5 2219.0,529.5 2224.0,529.5 2224.0,526.5 2229.0,526.5 2229.0,524.5 2234.0,524.5 2234.0,518.0 2239.0,518.0 2239.0,516.0 2244.0,516.0 2244.0,505.0 2249.0,505.0 2249.0,504.0 2254.0,504.0 2254.0,495.0 2259.0,495.0 2259.0,492.0 2264.0,492.0 2264.0,487.0 2269.0,487.0 2269.0,486.5 2274.0,486.5 2274.0,485.5 2279.0,485.5 2279.0,487.0 2284.0,487.0 2284.0,491.0 2284.2,491.0" fill="none" stroke="#3f4947" stroke-width="1.75" stroke-linejoin="miter" />
<polyline points="914.0,465.0 919.0,465.0 919.0,473.5 924.0,473.5 924.0,482.0 929.0,482.0 929.0,481.0 939.0,481.0 939.0,485.5 944.0,485.5 944.0,488.5 949.0,488.5 949.0,493.0 954.0,493.0 954.0,499.5 959.0,499.5 959.0,502.0 964.0,502.0 964.0,503.0 969.0,503.0 969.0,503.5 974.0,503.5 974.0,505.0 979.0,505.0 979.0,509.5 984.0,509.5 984.0,514.5 989.0,514.5 989.0,517.0 994.0,517.0 994.0,518.5 999.0,518.5 999.0,521.0 1004.0,521.0 1004.0,520.5 1009.0,520.5 1009.0,519.5 1014.0,519.5 1014.0,517.0 1019.0,517.0 1019.0,516.0 1024.0,516.0 1024.0,515.5 1029.0,515.5 1029.0,515.0 1039.0,515.0 1039.0,515.5 1044.0,515.5 1044.0,515.0 1049.0,515.0 1049.0,514.5 1059.0,514.5 1059.0,515.0 1064.0,515.0 1064.0,516.0 1069.0,516.0 1069.0,517.0 1074.0,517.0 1074.0,519.0 1079.0,519.0 1079.0,520.5 1084.0,520.5 1084.0,523.0 1089.0,523.0 1089.0,525.5 1094.0,525.5 1094.0,526.5 1099.0,526.5 1099.0,527.5 1104.0,527.5 1104.0,529.0 1109.0,529.0 1109.0,530.5 1114.0,530.5 1114.0,531.5 1119.0,531.5 1119.0,532.0 1124.0,532.0 1124.0,531.5 1129.0,531.5 1129.0,530.5 1134.0,530.5 1134.0,529.0 1139.0,529.0 1139.0,527.0 1144.0,527.0 1144.0,525.5 1149.0,525.5 1149.0,524.5 1154.0,524.5 1154.0,524.0 1164.0,524.0 1164.0,525.0 1169.0,525.0 1169.0,526.0 1174.0,526.0 1174.0,526.5 1179.0,526.5 1179.0,527.0 1184.0,527.0 1184.0,527.5 1189.0,527.5 1189.0,528.5 1194.0,528.5 1194.0,529.0 1199.0,529.0 1199.0,529.5 1204.0,529.5 1204.0,530.0 1209.0,530.0 1209.0,530.5 1214.0,530.5 1214.0,529.5 1219.0,529.5 1219.0,528.5 1224.0,528.5 1224.0,526.5 1229.0,526.5 1229.0,524.0 1234.0,524.0 1234.0,519.0 1239.0,519.0 1239.0,518.5 1244.0,518.5 1244.0,517.5 1249.0,517.5 1249.0,516.0 1264.0,516.0 1264.0,517.0 1269.0,517.0 1269.0,519.0 1274.0,519.0 1274.0,523.5 1279.0,523.5 1279.0,526.0 1284.0,526.0 1284.0,527.5 1289.0,527.5 1289.0,529.0 1294.0,529.0 1294.0,529.5 1314.0,529.5 1314.0,528.5 1319.0,528.5 1319.0,527.5 1324.0,527.5 1324.0,524.5 1329.0,524.5 1329.0,520.0 1334.0,520.0 1334.0,513.0 1339.0,513.0 1339.0,506.5 1344.0,506.5 1344.0,503.0 1349.0,503.0 1349.0,477.0 1354.0,477.0 1354.0,466.5 1359.0,466.5 1359.0,457.5 1364.0,457.5 1364.0,447.5 1369.0,447.5 1369.0,438.5 1374.0,438.5 1374.0,427.5 1379.0,427.5 1379.0,416.5 1384.0,416.5 1384.0,401.0 1389.0,401.0 1389.0,396.0 1394.0,396.0 1394.0,401.5 1399.0,401.5 1399.0,409.5 1404.0,409.5 1404.0,415.5 1409.0,415.5 1409.0,419.0 1414.0,419.0 1414.0,432.5 1419.0,432.5 1419.0,451.0 1424.0,451.0 1424.0,474.5 1429.0,474.5 1429.0,476.0 1434.0,476.0 1434.0,478.5 1439.0,478.5 1439.0,485.0 1444.0,485.0 1444.0,488.5 1449.0,488.5 1449.0,487.5 1454.0,487.5 1454.0,486.5 1474.0,486.5 1474.0,486.0 1479.0,486.0 1479.0,485.5 1484.0,485.5 1484.0,486.0 1489.0,486.0 1489.0,486.5 1494.0,486.5 1494.0,487.0 1499.0,487.0 1499.0,487.5 1504.0,487.5 1504.0,488.0 1509.0,488.0 1509.0,488.5 1524.0,488.5 1524.0,487.5 1529.0,487.5 1529.0,486.5 1534.0,486.5 1534.0,485.0 1539.0,485.0 1539.0,484.0 1544.0,484.0 1544.0,483.5 1549.0,483.5 1549.0,482.5 1554.0,482.5 1554.0,481.0 1559.0,481.0 1559.0,478.5 1564.0,478.5 1564.0,477.0 1569.0,477.0 1569.0,478.5 1574.0,478.5 1574.0,481.0 1579.0,481.0 1579.0,482.5 1584.0,482.5 1584.0,489.5 1589.0,489.5 1589.0,495.5 1594.0,495.5 1594.0,502.5 1609.0,502.5 1609.0,494.5 1614.0,494.5 1614.0,492.5 1619.0,492.5 1619.0,490.5 1624.0,490.5 1624.0,488.0 1629.0,488.0 1629.0,486.5 1634.0,486.5 1634.0,486.0 1639.0,486.0 1639.0,488.0 1644.0,488.0 1644.0,492.5 1649.0,492.5 1649.0,497.5 1654.0,497.5 1654.0,502.5 1659.0,502.5 1659.0,507.5 1664.0,507.5 1664.0,511.5 1669.0,511.5 1669.0,515.5 1674.0,515.5 1674.0,520.5 1679.0,520.5 1679.0,524.5 1684.0,524.5 1684.0,526.0 1689.0,526.0 1689.0,527.5 1694.0,527.5 1694.0,529.0 1699.0,529.0 1699.0,530.0 1704.0,530.0 1704.0,530.5 1709.0,530.5 1709.0,531.5 1714.0,531.5 1714.0,521.5 1724.0,521.5 1724.0,513.5 1729.0,513.5 1729.0,511.5 1734.0,511.5 1734.0,504.5 1739.0,504.5 1739.0,504.0 1744.0,504.0 1744.0,490.5 1749.0,490.5 1749.0,478.0 1754.0,478.0 1754.0,474.5 1759.0,474.5 1759.0,473.5 1764.0,473.5 1764.0,473.0 1769.0,473.0 1769.0,472.5 1784.0,472.5 1784.0,472.0 1789.0,472.0 1789.0,471.0 1794.0,471.0 1794.0,470.0 1799.0,470.0 1799.0,469.5 1809.0,469.5 1809.0,472.0 1814.0,472.0 1814.0,473.5 1819.0,473.5 1819.0,480.0 1824.0,480.0 1824.0,481.5 1829.0,481.5 1829.0,485.5 1834.0,485.5 1834.0,490.0 1839.0,490.0 1839.0,493.5 1844.0,493.5 1844.0,494.5 1849.0,494.5 1849.0,495.0 1854.0,495.0 1854.0,488.0 1859.0,488.0 1859.0,485.0 1864.0,485.0 1864.0,482.5 1869.0,482.5 1869.0,480.5 1879.0,480.5 1879.0,483.0 1884.0,483.0 1884.0,485.0 1889.0,485.0 1889.0,486.0 1894.0,486.0 1894.0,492.5 1899.0,492.5 1899.0,497.0 1904.0,497.0 1904.0,499.5 1909.0,499.5 1909.0,500.5 1914.0,500.5 1914.0,500.0 1919.0,500.0 1919.0,499.5 1924.0,499.5 1924.0,495.5 1929.0,495.5 1929.0,495.0 1939.0,495.0 1939.0,494.5 1944.0,494.5 1944.0,493.5 1949.0,493.5 1949.0,493.0 1954.0,493.0 1954.0,492.5 1959.0,492.5 1959.0,494.0 1964.0,494.0 1964.0,498.0 1969.0,498.0 1969.0,504.5 1974.0,504.5 1974.0,508.0 1979.0,508.0 1979.0,514.0 1984.0,514.0 1984.0,523.0 1989.0,523.0 1989.0,526.0 1994.0,526.0 1994.0,527.5 1999.0,527.5 1999.0,531.5 2039.0,531.5 2039.0,528.5 2044.0,528.5 2044.0,529.0 2059.0,529.0 2059.0,529.5 2064.0,529.5 2064.0,530.5 2069.0,530.5 2069.0,531.0 2104.0,531.0 2104.0,529.5 2109.0,529.5 2109.0,530.0 2119.0,530.0 2119.0,530.5 2124.0,530.5 2124.0,531.0 2129.0,531.0 2129.0,531.5 2219.0,531.5 2219.0,529.5 2224.0,529.5 2224.0,526.5 2229.0,526.5 2229.0,524.5 2234.0,524.5 2234.0,518.0 2239.0,518.0 2239.0,516.0 2244.0,516.0 2244.0,505.0 2249.0,505.0 2249.0,504.0 2254.0,504.0 2254.0,499.5 2259.0,499.5 2259.0,493.5 2264.0,493.5 2264.0,490.0 2269.0,490.0 2269.0,489.0 2274.0,489.0 2274.0,488.0 2279.0,488.0 2279.0,488.5 2284.0,488.5 2284.0,492.0 2284.2,492.0" fill="none" stroke="#d9587e" stroke-width="1.6" stroke-linejoin="miter" stroke-opacity="0.82"/>
<polygon points="1005.0,687.7 1005.0,676.6 1012.1,673.6 1020.1,670.0 1030.1,668.0 1040.2,667.6 1050.2,666.0 1060.3,667.6 1070.3,670.6 1080.4,675.6 1090.4,681.6 1096.4,683.7 1108.5,684.1 1116.5,686.1 1116.5,687.7 1127.6,687.7 1127.6,686.1 1136.6,683.7 1144.6,678.0 1152.7,675.6 1160.7,673.6 1170.8,676.0 1180.8,680.6 1190.8,683.7 1200.9,685.7 1208.9,686.1 1214.9,684.7 1221.0,679.6 1231.0,673.6 1241.1,668.6 1251.1,668.6 1261.1,671.6 1271.2,676.6 1281.2,682.6 1289.3,686.1 1301.3,686.1 1311.4,686.1 1320.0,682.3 1331.8,671.7 1343.6,657.5 1348.3,645.7 1350.7,633.9 1355.4,619.7 1360.1,607.9 1367.2,597.3 1374.3,579.6 1376.7,570.1 1381.4,561.9 1384.9,558.9 1386.1,544.2 1388.5,538.3 1393.2,537.1 1397.9,540.6 1402.6,547.7 1407.4,553.6 1412.1,557.2 1414.5,563.1 1418.0,569.0 1421.5,579.6 1422.1,596.1 1422.7,610.3 1428.6,615.0 1433.3,618.5 1438.1,623.3 1444.0,629.2 1447.5,633.9 1452.2,632.7 1457.0,629.2 1461.7,632.7 1467.6,636.3 1473.5,637.4 1480.0,636.3 1484.2,637.9 1494.2,640.5 1500.3,641.5 1512.3,640.5 1520.4,638.5 1528.4,631.4 1540.4,628.4 1552.5,622.4 1560.5,619.4 1570.6,620.4 1580.6,625.4 1588.7,633.4 1594.7,641.5 1602.7,647.5 1610.8,641.5 1620.8,633.4 1630.8,627.0 1640.9,631.4 1650.9,640.5 1661.0,653.5 1671.0,665.6 1681.1,675.6 1691.1,679.6 1699.1,684.7 1709.2,685.3 1713.2,686.7 1717.2,675.6 1725.3,659.5 1737.3,645.5 1745.3,625.4 1749.4,614.3 1757.4,611.3 1765.4,607.3 1773.5,602.3 1781.5,607.3 1791.5,610.3 1801.6,615.4 1811.6,620.4 1821.7,630.4 1831.7,639.5 1841.8,647.5 1851.8,649.5 1857.8,635.4 1860.1,627.4 1866.2,612.3 1876.2,609.3 1882.2,611.3 1886.2,617.4 1892.3,619.4 1898.3,633.4 1904.3,645.1 1916.4,645.1 1924.4,636.4 1934.5,631.4 1942.5,628.4 1950.5,631.4 1958.6,634.4 1966.6,644.5 1974.6,655.5 1982.7,664.6 1990.7,674.6 2000.8,686.7 2000.8,687.7 2027.9,687.7 2027.9,686.1 2038.9,684.1 2063.0,684.1 2071.1,686.1 2074.1,686.7 2074.1,687.7 2094.2,687.7 2094.2,685.7 2123.3,685.7 2123.3,687.7 2220.7,687.7 2220.7,686.7 2231.8,677.6 2239.8,668.6 2247.8,653.5 2255.9,639.5 2263.9,629.4 2271.9,631.4 2280.0,627.4 2285.0,631.4 2285.0,687.7" fill="#adadad"/>
<line x1="1384.7" y1="578" x2="1384.7" y2="665" stroke="#d03848" stroke-width="2"/>
<line x1="1384.7" y1="665" x2="1384.7" y2="673" stroke="#3a3a90" stroke-width="2"/>
<line x1="1384.7" y1="673" x2="1384.7" y2="687.7" stroke="#5a9a4a" stroke-width="2"/>
<line x1="1218" y1="683" x2="1218" y2="687.7" stroke="#3040a0" stroke-width="1.8"/>
<line x1="1004.2" y1="534" x2="1004.2" y2="688" stroke="#f0b4c4" stroke-width="1.5"/>
<polyline points="994.5,553.2 984.3,553.2 984.3,689.5" fill="none" stroke="#aaaaaa" stroke-width="1.5"/>
<text x="930.02" y="559.00" font-size="13" fill="#b8b8b8" textLength="43.99" lengthAdjust="spacingAndGlyphs" >51,644</text>
<text x="965.69" y="688.80" font-size="13" fill="#b8b8b8" textLength="8.46" lengthAdjust="spacingAndGlyphs" >0</text>
<line x1="1385.5" y1="87.6" x2="1385.5" y2="549" stroke="#000" stroke-width="2.6" stroke-dasharray="4.9 5.9"/>
<text x="192.61" y="888.60" font-size="26.5" font-weight="bold" fill="#000" textLength="235.55" lengthAdjust="spacingAndGlyphs" >chrM: 13711 (ND5)</text>
<text x="678.61" y="888.80" font-size="26.5" font-weight="bold" fill="#000" textLength="357.12" lengthAdjust="spacingAndGlyphs" >chr11: 65,273,630 (MALAT1)</text>
<text x="1194.23" y="888.60" font-size="26.5" font-weight="bold" fill="#000" textLength="336.98" lengthAdjust="spacingAndGlyphs" >PRUNE: chr1: 150,980,982</text>
<rect x="82.3" y="935" width="488.3" height="388" fill="#f8f8f8"/>
<line x1="82.3" y1="1010.3" x2="570.6" y2="1010.3" stroke="#c8c8c8" stroke-width="1.6"/>
<line x1="82.3" y1="1167" x2="570.6" y2="1167" stroke="#c8c8c8" stroke-width="1.6"/>
<line x1="82.3" y1="1323.6" x2="570.6" y2="1323.6" stroke="#d4d4d4" stroke-width="1.6"/>
<polygon points="82.2,1320.5 82.2,1290.1 87.4,1287.0 93.6,1285.8 99.8,1287.6 117.1,1287.6 124.6,1290.7 132.0,1293.8 149.4,1293.8 156.8,1290.1 166.7,1287.6 194.0,1287.6 198.9,1286.4 213.8,1287.6 223.7,1281.5 236.1,1277.1 248.5,1275.3 255.9,1274.6 264.6,1266.6 273.3,1263.5 280.7,1261.6 285.7,1250.5 291.9,1234.4 298.1,1215.8 303.0,1197.2 306.8,1184.8 309.2,1178.6 316.7,1176.1 322.9,1169.9 329.1,1167.4 333.6,1168.1 334.8,1174.9 336.1,1197.2 342.3,1215.8 347.2,1224.4 352.2,1239.3 359.6,1254.2 367.1,1264.1 374.5,1275.3 379.4,1285.2 381.9,1291.4 389.4,1292.0 399.3,1293.2 406.7,1293.8 411.7,1288.9 417.9,1287.6 431.5,1286.4 438.9,1285.8 451.3,1287.6 478.6,1287.6 488.5,1285.2 500.9,1284.6 513.3,1286.4 523.2,1288.9 530.6,1292.6 540.6,1297.6 550.5,1299.4 560.4,1301.3 570.3,1301.9 570.3,1320.5" fill="#adadad"/>
<line x1="258.7" y1="1276" x2="258.7" y2="1320.5" stroke="#2020e0" stroke-width="1.8"/>
<line x1="307" y1="1185" x2="307" y2="1254" stroke="#d02030" stroke-width="1.8"/>
<line x1="307" y1="1254" x2="307" y2="1320.5" stroke="#509040" stroke-width="1.8"/>
<line x1="405.5" y1="1294.5" x2="405.5" y2="1320.5" stroke="#509040" stroke-width="1.8"/>
<polyline points="82.3,1143.0 86.3,1143.0 86.3,1142.0 90.3,1142.0 90.3,1141.5 118.3,1141.5 118.3,1142.5 122.3,1142.5 122.3,1144.5 126.3,1144.5 126.3,1145.5 150.3,1145.5 150.3,1144.5 154.3,1144.5 154.3,1143.5 186.3,1143.5 186.3,1144.0 190.3,1144.0 190.3,1145.5 194.3,1145.5 194.3,1146.5 198.3,1146.5 198.3,1147.0 202.3,1147.0 202.3,1147.5 222.3,1147.5 222.3,1146.0 250.3,1146.0 250.3,1147.0 254.3,1147.0 254.3,1147.5 282.3,1147.5 282.3,1146.5 286.3,1146.5 286.3,1144.0 290.3,1144.0 290.3,1142.0 294.3,1142.0 294.3,1141.0 298.3,1141.0 298.3,1138.0 302.3,1138.0 302.3,1134.0 306.3,1134.0 306.3,1132.5 310.3,1132.5 310.3,1131.0 314.3,1131.0 314.3,1130.5 318.3,1130.5 318.3,1130.0 322.3,1130.0 322.3,1128.5 326.3,1128.5 326.3,1128.0 334.3,1128.0 334.3,1135.5 338.3,1135.5 338.3,1136.5 342.3,1136.5 342.3,1137.0 346.3,1137.0 346.3,1137.5 354.3,1137.5 354.3,1138.5 358.3,1138.5 358.3,1139.0 366.3,1139.0 366.3,1139.5 370.3,1139.5 370.3,1140.0 374.3,1140.0 374.3,1142.0 378.3,1142.0 378.3,1143.5 382.3,1143.5 382.3,1145.0 386.3,1145.0 386.3,1145.5 394.3,1145.5 394.3,1146.0 398.3,1146.0 398.3,1146.5 406.3,1146.5 406.3,1145.5 410.3,1145.5 410.3,1144.5 414.3,1144.5 414.3,1144.0 418.3,1144.0 418.3,1145.0 422.3,1145.0 422.3,1145.5 430.3,1145.5 430.3,1144.5 438.3,1144.5 438.3,1145.0 442.3,1145.0 442.3,1145.5 450.3,1145.5 450.3,1146.5 454.3,1146.5 454.3,1147.0 458.3,1147.0 458.3,1146.0 482.3,1146.0 482.3,1144.5 486.3,1144.5 486.3,1143.5 494.3,1143.5 494.3,1143.0 498.3,1143.0 498.3,1141.5 510.3,1141.5 510.3,1142.0 514.3,1142.0 514.3,1143.5 518.3,1143.5 518.3,1144.5 522.3,1144.5 522.3,1145.5 526.3,1145.5 526.3,1146.0 530.3,1146.0 530.3,1147.0 534.3,1147.0 534.3,1148.0 538.3,1148.0 538.3,1149.0 542.3,1149.0 542.3,1149.5 546.3,1149.5 546.3,1150.5 550.3,1150.5 550.3,1151.5 554.3,1151.5 554.3,1152.5 558.3,1152.5 558.3,1153.0 570.6,1153.0" fill="none" stroke="#3e4644" stroke-width="2.0" stroke-linejoin="miter" />
<polyline points="82.3,1135.5 86.3,1135.5 86.3,1134.0 90.3,1134.0 90.3,1133.5 98.3,1133.5 98.3,1135.5 102.3,1135.5 102.3,1136.5 118.3,1136.5 118.3,1137.0 122.3,1137.0 122.3,1139.0 126.3,1139.0 126.3,1140.0 138.3,1140.0 138.3,1140.5 142.3,1140.5 142.3,1142.0 146.3,1142.0 146.3,1140.5 150.3,1140.5 150.3,1139.0 154.3,1139.0 154.3,1138.0 158.3,1138.0 158.3,1137.0 162.3,1137.0 162.3,1136.5 202.3,1136.5 202.3,1135.5 206.3,1135.5 206.3,1134.0 210.3,1134.0 210.3,1133.0 214.3,1133.0 214.3,1132.0 218.3,1132.0 218.3,1130.0 222.3,1130.0 222.3,1129.0 226.3,1129.0 226.3,1127.5 230.3,1127.5 230.3,1126.5 234.3,1126.5 234.3,1125.5 238.3,1125.5 238.3,1125.0 242.3,1125.0 242.3,1124.0 246.3,1124.0 246.3,1123.5 250.3,1123.5 250.3,1122.5 254.3,1122.5 254.3,1121.0 258.3,1121.0 258.3,1118.5 262.3,1118.5 262.3,1115.5 266.3,1115.5 266.3,1114.5 270.3,1114.5 270.3,1113.5 274.3,1113.5 274.3,1112.0 278.3,1112.0 278.3,1108.5 282.3,1108.5 282.3,1101.0 286.3,1101.0 286.3,1088.5 290.3,1088.5 290.3,1077.0 294.3,1077.0 294.3,1073.0 298.3,1073.0 298.3,1056.5 302.3,1056.5 302.3,1043.0 306.3,1043.0 306.3,1038.0 310.3,1038.0 310.3,1037.0 314.3,1037.0 314.3,1035.5 318.3,1035.5 318.3,1033.5 322.3,1033.5 322.3,1031.0 326.3,1031.0 326.3,1030.0 334.3,1030.0 334.3,1059.5 338.3,1059.5 338.3,1063.5 342.3,1063.5 342.3,1075.5 346.3,1075.5 346.3,1086.0 350.3,1086.0 350.3,1097.0 354.3,1097.0 354.3,1099.5 358.3,1099.5 358.3,1107.5 362.3,1107.5 362.3,1113.5 366.3,1113.5 366.3,1117.5 370.3,1117.5 370.3,1123.0 374.3,1123.0 374.3,1128.0 378.3,1128.0 378.3,1138.0 382.3,1138.0 382.3,1139.0 386.3,1139.0 386.3,1139.5 394.3,1139.5 394.3,1140.0 398.3,1140.0 398.3,1140.5 402.3,1140.5 402.3,1139.5 406.3,1139.5 406.3,1137.0 410.3,1137.0 410.3,1135.5 422.3,1135.5 422.3,1135.0 430.3,1135.0 430.3,1133.5 446.3,1133.5 446.3,1135.0 450.3,1135.0 450.3,1135.5 478.3,1135.5 478.3,1134.0 482.3,1134.0 482.3,1133.5 498.3,1133.5 498.3,1133.0 502.3,1133.0 502.3,1131.5 506.3,1131.5 506.3,1132.0 510.3,1132.0 510.3,1132.5 514.3,1132.5 514.3,1133.5 518.3,1133.5 518.3,1135.0 522.3,1135.0 522.3,1137.0 526.3,1137.0 526.3,1138.5 530.3,1138.5 530.3,1140.5 534.3,1140.5 534.3,1143.0 538.3,1143.0 538.3,1143.5 546.3,1143.5 546.3,1144.5 550.3,1144.5 550.3,1145.5 554.3,1145.5 554.3,1146.5 558.3,1146.5 558.3,1147.0 570.6,1147.0" fill="none" stroke="#d8404c" stroke-width="2.0" stroke-linejoin="miter" />
<line x1="312" y1="1038" x2="312" y2="1180" stroke="#000" stroke-width="2.6" stroke-dasharray="5 5.8"/>
<text x="138.72" y="975.70" font-size="27.5" font-weight="bold" fill="#d0102a" textLength="27.34" lengthAdjust="spacingAndGlyphs" >IP</text>
<text x="175.81" y="975.70" font-size="27.5" font-weight="bold" fill="#000" textLength="80.84" lengthAdjust="spacingAndGlyphs" >quant</text>
<text transform="translate(33.40,1238.00) rotate(-90)" x="-1.24" y="0" font-size="28" fill="#000" textLength="222.11" lengthAdjust="spacingAndGlyphs">Sequencing depth</text>
<text transform="translate(70.60,1236.20) rotate(-90)" x="-2.01" y="0" font-size="26.5" fill="#000" textLength="82.12" lengthAdjust="spacingAndGlyphs">16,000</text>
<text transform="translate(70.60,1324.50) rotate(-90)" x="-1.03" y="0" font-size="26.5" fill="#000" textLength="14.37" lengthAdjust="spacingAndGlyphs">0</text>
<rect x="624.5" y="938.6" width="500.5" height="387.4" fill="#f8f8f8"/>
<line x1="624.5" y1="982.2" x2="1125" y2="982.2" stroke="#c8c8c8" stroke-width="1.6"/>
<line x1="624.5" y1="1155.8" x2="1125" y2="1155.8" stroke="#c8c8c8" stroke-width="1.6"/>
<polygon points="624.5,1326.0 624.5,1288.2 630.1,1284.9 631.5,1281.5 636.9,1281.5 636.9,1273.4 650.4,1273.4 653.1,1278.8 657.1,1281.5 658.5,1274.7 665.2,1269.4 673.3,1267.3 678.7,1266.0 681.4,1257.9 685.4,1253.8 693.5,1253.2 694.9,1270.0 697.6,1276.8 703.0,1282.2 705.7,1294.3 712.4,1290.3 719.1,1286.2 723.2,1286.9 725.9,1282.2 728.6,1281.5 729.9,1287.6 738.0,1288.2 739.4,1279.5 743.4,1276.1 747.5,1268.7 748.8,1266.0 752.9,1256.5 758.3,1255.9 763.7,1252.5 767.7,1249.1 773.1,1249.1 777.1,1243.1 779.8,1243.1 785.2,1249.8 790.6,1255.2 793.3,1259.2 796.0,1264.6 798.7,1264.6 800.1,1259.9 805.5,1259.9 806.8,1267.3 810.9,1268.7 813.5,1274.1 814.9,1288.9 817.6,1279.5 823.0,1279.5 825.7,1288.2 841.9,1288.2 843.2,1279.5 850.0,1279.5 852.7,1262.6 855.4,1262.6 858.1,1268.7 859.4,1246.4 862.1,1246.4 863.4,1239.0 866.1,1239.0 867.5,1245.8 875.6,1245.8 876.9,1228.2 878.1,1228.2 887.5,1227.5 888.9,1203.9 892.9,1202.6 894.3,1194.5 902.4,1194.5 903.7,1163.5 907.8,1160.8 910.5,1156.1 917.2,1156.1 919.9,1166.2 922.6,1167.5 923.9,1183.7 925.3,1195.9 932.0,1195.9 933.4,1190.5 934.7,1196.5 938.8,1196.5 940.1,1193.8 945.5,1195.9 949.6,1201.2 950.9,1214.7 956.3,1216.1 959.0,1220.1 961.7,1228.2 963.1,1243.1 965.8,1244.4 967.1,1256.5 969.8,1264.6 972.5,1270.0 975.2,1271.4 976.5,1284.9 977.9,1291.6 981.9,1299.7 988.7,1303.7 1004.9,1305.1 1006.2,1318.6 1011.6,1319.9 1013.0,1324.0 1015.7,1325.3 1030.5,1325.3 1030.5,1328.8 1045.3,1328.8 1045.3,1325.3 1050.7,1322.6 1052.1,1307.1 1069.6,1307.1 1076.3,1301.7 1085.8,1301.7 1088.5,1303.1 1116.8,1303.1 1122.2,1306.4 1124.9,1325.3 1124.9,1326.0" fill="#adadad"/>
<line x1="902.4" y1="1203.3" x2="902.4" y2="1307.8" stroke="#d02030" stroke-width="1.8"/>
<line x1="902.4" y1="1307.8" x2="902.4" y2="1322" stroke="#3030d0" stroke-width="1.8"/>
<line x1="902.4" y1="1322" x2="902.4" y2="1326" stroke="#509040" stroke-width="1.8"/>
<polyline points="624.9,1113.3 635.1,1112.4 642.0,1111.6 643.7,1114.1 652.3,1114.1 655.7,1109.9 659.1,1114.1 666.0,1116.7 672.8,1120.1 693.4,1120.1 696.8,1108.1 715.6,1108.1 719.1,1104.7 724.2,1101.3 737.9,1099.6 744.8,1097.0 751.6,1091.9 755.0,1088.4 755.0,1079.9 768.7,1079.9 770.4,1084.2 775.6,1083.3 782.4,1080.7 789.3,1080.7 792.7,1081.6 806.4,1082.4 813.3,1088.4 815.0,1091.9 828.7,1091.9 833.8,1099.6 840.7,1104.7 847.5,1106.4 851.0,1108.1 851.0,1116.7 864.7,1116.7 866.4,1127.8 887.5,1125.0 888.9,1122.3 892.9,1122.3 899.7,1125.7 902.4,1120.9 910.5,1120.9 914.5,1123.0 918.6,1120.9 930.7,1120.9 934.7,1123.0 940.1,1125.4 967.1,1125.4 971.1,1123.6 983.3,1121.6 996.8,1120.9 998.1,1118.9 1004.9,1118.9 1011.6,1116.9 1014.3,1112.8 1019.7,1111.5 1021.0,1108.1 1034.5,1108.1 1035.9,1114.2 1042.6,1114.9 1044.0,1120.3 1050.7,1120.3 1053.4,1118.9 1064.2,1117.6 1065.5,1110.8 1072.3,1110.1 1072.3,1104.1 1079.0,1104.1 1080.4,1109.5 1087.1,1109.5 1088.5,1118.9 1093.9,1118.9 1095.2,1127.7 1107.4,1129.7 1108.7,1136.4 1114.1,1136.4 1115.4,1140.5 1118.1,1144.5 1123.5,1144.5 1124.9,1151.3" fill="none" stroke="#3e4644" stroke-width="1.8" stroke-linejoin="miter" />
<polyline points="624.9,1121.8 628.3,1116.7 635.1,1113.3 636.8,1105.6 648.8,1105.6 652.3,1110.7 659.1,1108.1 660.8,1105.6 666.0,1101.3 672.8,1099.6 679.7,1097.0 681.4,1090.2 693.4,1090.2 695.1,1108.1 701.9,1108.1 701.9,1120.1 717.3,1120.1 719.1,1115.9 727.6,1115.9 737.9,1118.4 739.6,1109.0 746.5,1108.1 748.2,1096.2 755.0,1094.4 755.0,1091.0 765.3,1087.6 772.2,1084.2 777.3,1081.6 784.2,1080.7 787.6,1087.6 791.0,1094.4 799.6,1095.3 803.0,1099.6 806.4,1103.9 813.3,1104.7 813.3,1114.1 823.5,1116.7 830.4,1118.4 837.3,1120.1 842.4,1120.1 844.1,1109.0 851.0,1108.1 851.0,1101.3 857.8,1101.3 859.5,1081.6 871.5,1080.7 872.7,1077.1 879.4,1077.1 880.8,1066.3 887.5,1066.3 887.5,1049.5 894.3,1049.5 897.0,1038.7 901.0,1038.0 902.4,1008.3 909.1,1008.3 910.5,1002.9 915.9,1002.9 917.2,1013.7 923.9,1014.4 923.9,1036.6 932.0,1038.0 940.1,1036.6 945.5,1036.6 945.5,1044.7 953.6,1044.7 955.0,1057.5 961.7,1057.5 961.7,1086.5 968.4,1086.5 969.8,1103.4 976.5,1103.4 976.5,1128.3 981.9,1128.3 983.3,1133.7 998.1,1133.7 999.5,1136.4 1004.9,1136.4 1006.2,1147.2 1013.0,1147.2 1014.3,1151.3 1029.1,1151.9 1031.8,1153.3 1042.6,1153.3 1044.0,1151.3 1050.7,1151.3 1050.7,1140.5 1057.5,1139.8 1057.5,1136.4 1072.3,1136.4 1072.3,1132.4 1085.8,1131.7 1099.3,1131.0 1107.4,1130.4 1108.7,1132.4 1116.8,1132.4 1118.1,1137.8 1124.9,1137.8 1124.9,1152.6" fill="none" stroke="#d8404c" stroke-width="1.8" stroke-linejoin="miter" />
<line x1="901.7" y1="995" x2="901.7" y2="1200" stroke="#000" stroke-width="2.6" stroke-dasharray="5 5.8"/>
<text x="682.83" y="970.30" font-size="27.5" font-weight="bold" fill="#d0102a" textLength="28.57" lengthAdjust="spacingAndGlyphs" >IP</text>
<text x="719.21" y="970.30" font-size="27.5" font-weight="bold" fill="#000" textLength="81.04" lengthAdjust="spacingAndGlyphs" >quant</text>
<text transform="translate(615.40,1223.00) rotate(-90)" x="-2.00" y="0" font-size="26" fill="#000" textLength="44.46" lengthAdjust="spacingAndGlyphs">133</text>
<text transform="translate(615.40,1324.80) rotate(-90)" x="-1.15" y="0" font-size="26" fill="#000" textLength="15.99" lengthAdjust="spacingAndGlyphs">0</text>
<rect x="1159.2" y="948.4" width="426" height="386.4" fill="#f8f8f8"/>
<line x1="1159.2" y1="948.4" x2="1585.1" y2="948.4" stroke="#c8c8c8" stroke-width="1.6"/>
<line x1="1159.2" y1="1141" x2="1585.1" y2="1141" stroke="#c8c8c8" stroke-width="1.6"/>
<line x1="1159.2" y1="1334.8" x2="1585.1" y2="1334.8" stroke="#d0d0d0" stroke-width="1.6"/>
<polygon points="1183.7,1330.2 1183.7,1330.2 1206.6,1329.4 1208.2,1312.6 1214.3,1312.6 1215.8,1300.3 1220.4,1299.6 1222.0,1282.0 1225.0,1277.4 1225.0,1211.5 1229.6,1203.9 1229.6,1199.3 1234.2,1199.3 1234.2,1187.1 1289.3,1187.1 1290.8,1179.4 1298.5,1179.4 1300.0,1187.1 1309.2,1187.1 1310.7,1179.4 1323.0,1179.4 1324.5,1175.6 1329.1,1171.7 1330.6,1162.6 1332.9,1162.6 1333.7,1171.7 1336.8,1182.5 1339.8,1182.5 1346.0,1180.9 1346.0,1172.5 1356.7,1172.5 1358.2,1180.9 1361.3,1180.9 1362.8,1167.1 1364.3,1167.1 1365.9,1199.3 1367.4,1236.0 1370.5,1242.2 1373.5,1246.8 1388.8,1247.5 1391.9,1230.7 1394.9,1230.7 1396.8,1237.6 1404.5,1236.0 1419.8,1235.3 1421.3,1226.9 1424.4,1203.9 1425.9,1199.3 1429.0,1199.3 1430.5,1206.2 1435.1,1206.2 1436.6,1194.7 1444.3,1194.7 1445.8,1191.6 1448.9,1191.6 1450.4,1204.7 1456.5,1204.7 1458.1,1194.7 1465.7,1194.7 1467.3,1204.7 1471.9,1205.4 1482.6,1207.0 1485.6,1211.5 1488.7,1202.4 1491.8,1196.2 1499.4,1193.2 1500.9,1162.6 1504.0,1162.6 1505.5,1179.4 1510.1,1179.4 1511.7,1164.1 1513.2,1149.5 1519.3,1149.5 1520.8,1142.7 1525.4,1141.9 1526.2,1331.0 1526.2,1330.2" fill="#adadad"/>
<line x1="1291.2" y1="1187.8" x2="1291.2" y2="1265.9" stroke="#d02030" stroke-width="1.8"/>
<line x1="1291.2" y1="1265.9" x2="1291.2" y2="1330.2" stroke="#509040" stroke-width="1.8"/>
<polyline points="1159.2,1126.8 1173.0,1126.8 1174.5,1119.9 1186.7,1119.9 1188.3,1109.9 1202.1,1109.9 1203.6,1100.0 1215.8,1100.0 1217.4,1081.6 1229.6,1081.6 1231.1,1059.4 1232.7,1045.6 1244.9,1045.6 1246.4,1025.7 1258.7,1025.7 1260.2,1004.3 1272.5,1004.3 1274.0,1001.2 1284.7,1001.2 1287.8,1003.5 1300.0,1003.5 1301.6,989.0 1315.3,989.0 1316.9,972.9 1344.4,972.9 1346.0,981.3 1358.2,981.3 1359.7,979.5 1370.5,979.5 1372.0,1011.2 1384.2,1011.2 1386.1,1011.2 1387.7,1030.3 1399.9,1030.3 1401.4,1044.9 1413.7,1044.9 1416.7,1042.6 1429.0,1042.6 1430.5,1037.2 1442.8,1037.2 1445.8,1047.9 1458.1,1047.9 1459.6,1032.6 1471.9,1032.6 1473.4,1023.4 1485.6,1023.4 1487.2,1020.4 1499.4,1020.4 1500.9,1032.6 1514.7,1032.6 1516.3,1052.5 1528.5,1052.5 1530.0,1136.7 1585.1,1136.7" fill="none" stroke="#3e4644" stroke-width="1.8" stroke-linejoin="miter" />
<polyline points="1159.2,1139.8 1186.7,1139.8 1188.3,1136.7 1202.1,1136.7 1203.6,1129.8 1215.8,1129.8 1217.4,1087.7 1229.6,1087.7 1231.1,1062.5 1232.7,1045.6 1244.9,1045.6 1246.4,1042.6 1284.7,1042.6 1287.8,1040.3 1315.3,1040.3 1316.9,1035.7 1329.1,1035.7 1332.2,1038.0 1344.4,1038.0 1346.0,1035.7 1358.2,1035.7 1359.0,1058.6 1370.5,1058.6 1372.0,1080.8 1386.1,1079.3 1399.9,1079.3 1401.4,1074.0 1415.2,1074.0 1416.7,1061.7 1429.0,1061.7 1430.5,1052.5 1444.3,1052.5 1445.8,1048.7 1458.1,1048.7 1471.9,1049.5 1471.9,1059.4 1485.6,1059.4 1485.6,1047.2 1499.4,1047.2 1500.9,1028.0 1514.7,1028.0 1516.3,1052.5 1528.5,1052.5 1585.1,1090.0" fill="none" stroke="#d8404c" stroke-width="1.8" stroke-linejoin="miter" />
<text x="1207.77" y="969.10" font-size="27.5" font-weight="bold" fill="#d0102a" textLength="28.12" lengthAdjust="spacingAndGlyphs" >IP</text>
<text x="1244.52" y="969.10" font-size="27.5" font-weight="bold" fill="#000" textLength="80.33" lengthAdjust="spacingAndGlyphs" >quant</text>
<text transform="translate(1153.80,1224.90) rotate(-90)" x="-0.54" y="0" font-size="26" fill="#000" textLength="30.15" lengthAdjust="spacingAndGlyphs">40</text>
<text transform="translate(1153.80,1324.50) rotate(-90)" x="-1.07" y="0" font-size="26" fill="#000" textLength="14.83" lengthAdjust="spacingAndGlyphs">0</text>
<path d="M1764.4,1271.5 L1768.7,1269.5 L1773.3,1267.8 L1777.9,1266.2 L1782.5,1264.5 L1787.1,1262.8 L1791.7,1261.1 L1796.3,1259.4 L1800.9,1257.6 L1805.4,1255.9 L1809.9,1254.1 L1814.5,1252.4 L1819.0,1250.6 L1823.5,1248.8 L1828.0,1247.0 L1832.5,1245.2 L1836.9,1243.4 L1841.4,1241.5 L1845.8,1239.7 L1850.2,1237.8 L1854.6,1235.9 L1859.0,1234.0 L1863.4,1232.1 L1867.8,1230.2 L1872.1,1228.2 L1876.4,1226.3 L1880.8,1224.3 L1885.0,1222.3 L1889.3,1220.3 L1893.6,1218.3 L1897.8,1216.2 L1902.0,1214.1 L1906.2,1212.0 L1910.4,1209.9 L1914.6,1207.8 L1918.7,1205.6 L1922.8,1203.5 L1926.9,1201.3 L1931.0,1199.1 L1935.1,1196.8 L1939.1,1194.6 L1943.1,1192.3 L1947.1,1190.0 L1951.1,1187.7 L1955.0,1185.3 L1958.9,1182.9 L1962.8,1180.5 L1966.7,1178.1 L1970.5,1175.6 L1974.3,1173.1 L1978.1,1170.6 L1981.9,1168.1 L1985.6,1165.5 L1989.3,1162.9 L1992.9,1160.3 L1996.5,1157.6 L2000.1,1154.9 L2003.7,1152.2 L2007.2,1149.4 L2010.7,1146.6 L2014.2,1143.7 L2017.6,1140.9 L2021.0,1137.9 L2024.3,1135.0 L2027.6,1132.0 L2030.9,1129.0 L2034.1,1125.9 L2037.3,1122.8 L2040.4,1119.6 L2043.6,1116.5 L2046.6,1113.2 L2049.7,1110.0 L2052.7,1106.7 L2055.6,1103.3 L2058.5,1099.9 L2061.4,1096.5 L2064.3,1093.1 L2067.1,1089.6 L2069.9,1086.1 L2072.7,1082.6 L2075.4,1079.0 L2078.1,1075.4 L2080.8,1071.8 L2083.4,1068.1 L2086.1,1064.5 L2088.7,1060.8 L2091.3,1057.1 L2093.8,1053.3 L2096.3,1049.5 L2098.8,1045.7 L2101.2,1041.8 L2103.6,1037.9 L2106.0,1034.0 L2108.2,1030.0 L2110.5,1025.9 L2112.6,1021.7 L2114.7,1017.5 L2116.8,1013.3 L2118.7,1008.9 L2120.6,1004.5 L2122.4,999.9 L2124.0,995.3 L2125.7,990.6 L2127.2,985.9 L2128.6,981.0 L2130.0,976.0 L2131.3,971.0 L2132.5,965.9 L2133.6,960.7 L2134.6,955.4 L2135.5,950.0 L2136.4,944.6 L2137.1,939.0 L2137.8,933.4 L2138.4,927.7 L2138.9,921.9 L2139.4,916.0 L2139.7,910.0 L2139.9,904.0 L2140.3,898.0" fill="none" stroke="#0a0a0a" stroke-width="4.2" stroke-linecap="round" stroke-linejoin="round"/>
<path d="M1764.4,1271.5 L1768.3,1269.1 L1772.6,1267.1 L1777.0,1265.1 L1781.3,1263.2 L1785.7,1261.3 L1790.1,1259.4 L1794.6,1257.5 L1799.0,1255.7 L1803.5,1253.8 L1808.0,1252.0 L1812.4,1250.2 L1816.9,1248.3 L1821.3,1246.5 L1825.8,1244.6 L1830.2,1242.7 L1834.6,1240.8 L1839.0,1238.9 L1843.3,1236.9 L1847.6,1234.9 L1851.9,1232.9 L1856.2,1230.9 L1860.5,1228.9 L1864.7,1226.8 L1869.0,1224.8 L1873.2,1222.7 L1877.4,1220.6 L1881.6,1218.4 L1885.7,1216.3 L1889.9,1214.1 L1894.0,1212.0 L1898.1,1209.8 L1902.3,1207.6 L1906.4,1205.4 L1910.4,1203.2 L1914.5,1200.9 L1918.6,1198.7 L1922.6,1196.4 L1926.6,1194.1 L1930.7,1191.8 L1934.6,1189.5 L1938.6,1187.2 L1942.6,1184.8 L1946.5,1182.4 L1950.4,1180.0 L1954.3,1177.6 L1958.2,1175.2 L1962.0,1172.7 L1965.8,1170.2 L1969.6,1167.7 L1973.4,1165.2 L1977.1,1162.6 L1980.9,1160.0 L1984.6,1157.4 L1988.2,1154.8 L1991.9,1152.1 L1995.5,1149.4 L1999.0,1146.6 L2002.6,1143.9 L2006.1,1141.1 L2009.5,1138.2 L2013.0,1135.4 L2016.4,1132.5 L2019.8,1129.5 L2023.1,1126.5 L2026.4,1123.5 L2029.6,1120.5 L2032.9,1117.4 L2036.0,1114.2 L2039.1,1111.0 L2042.2,1107.8 L2045.2,1104.5 L2048.2,1101.2 L2051.1,1097.8 L2054.0,1094.4 L2056.8,1090.9 L2059.6,1087.3 L2062.3,1083.7 L2065.0,1080.0 L2067.6,1076.3 L2070.1,1072.6 L2072.6,1068.8 L2075.1,1064.9 L2077.5,1061.0 L2080.0,1057.1 L2082.3,1053.2 L2084.7,1049.2 L2087.0,1045.2 L2089.3,1041.2 L2091.6,1037.2 L2093.9,1033.1 L2096.1,1029.1 L2098.4,1025.0 L2100.6,1020.9 L2102.7,1016.7 L2104.9,1012.6 L2107.0,1008.4 L2109.1,1004.2 L2111.2,999.9 L2113.2,995.6 L2115.1,991.3 L2117.1,986.9 L2119.0,982.4 L2120.8,977.9 L2122.6,973.4 L2124.3,968.8 L2125.9,964.1 L2127.5,959.4 L2129.0,954.6 L2130.5,949.7 L2131.8,944.7 L2133.1,939.7 L2134.3,934.6 L2135.4,929.3 L2136.4,924.0 L2137.3,918.6 L2138.1,913.1 L2138.8,907.5 L2139.4,901.7 L2140.0,896.0" fill="none" stroke="#8e8e8e" stroke-width="4.2" stroke-linecap="round" stroke-linejoin="round"/>
<path d="M1764.4,1272.0 L1769.0,1270.8 L1773.6,1269.7 L1778.3,1268.5 L1783.0,1267.4 L1787.6,1266.2 L1792.2,1265.1 L1796.8,1263.9 L1801.4,1262.7 L1806.0,1261.5 L1810.5,1260.2 L1815.1,1259.0 L1819.6,1257.7 L1824.1,1256.4 L1828.6,1255.2 L1833.1,1253.9 L1837.6,1252.5 L1842.0,1251.2 L1846.5,1249.8 L1850.9,1248.5 L1855.3,1247.1 L1859.7,1245.7 L1864.1,1244.3 L1868.4,1242.8 L1872.8,1241.4 L1877.1,1239.9 L1881.4,1238.4 L1885.7,1236.9 L1889.9,1235.4 L1894.2,1233.9 L1898.4,1232.3 L1902.6,1230.7 L1906.8,1229.1 L1911.0,1227.5 L1915.2,1225.9 L1919.3,1224.2 L1923.4,1222.6 L1927.6,1220.9 L1931.7,1219.2 L1935.7,1217.5 L1939.8,1215.8 L1943.9,1214.0 L1947.9,1212.3 L1952.0,1210.5 L1956.0,1208.8 L1960.1,1207.0 L1964.1,1205.2 L1968.1,1203.5 L1972.1,1201.7 L1976.0,1199.8 L1980.0,1198.0 L1983.9,1196.2 L1987.9,1194.3 L1991.8,1192.4 L1995.6,1190.4 L1999.5,1188.5 L2003.3,1186.5 L2007.0,1184.5 L2010.8,1182.4 L2014.5,1180.3 L2018.1,1178.2 L2021.7,1176.0 L2025.3,1173.8 L2028.8,1171.5 L2032.3,1169.2 L2035.7,1166.8 L2039.1,1164.4 L2042.5,1162.0 L2045.8,1159.5 L2049.0,1156.9 L2052.2,1154.3 L2055.4,1151.7 L2058.5,1149.0 L2061.5,1146.3 L2064.6,1143.5 L2067.5,1140.6 L2070.4,1137.7 L2073.2,1134.8 L2076.0,1131.7 L2078.8,1128.7 L2081.4,1125.5 L2084.1,1122.4 L2086.6,1119.1 L2089.1,1115.8 L2091.6,1112.5 L2093.9,1109.0 L2096.3,1105.6 L2098.5,1102.0 L2100.7,1098.4 L2102.8,1094.7 L2104.9,1091.0 L2106.9,1087.2 L2108.8,1083.3 L2110.7,1079.4 L2112.5,1075.4 L2114.2,1071.3 L2115.9,1067.1 L2117.5,1063.0 L2119.1,1058.7 L2120.6,1054.4 L2122.0,1050.0 L2123.4,1045.6 L2124.7,1041.1 L2126.0,1036.6 L2127.2,1032.0 L2128.4,1027.3 L2129.5,1022.7 L2130.6,1017.9 L2131.6,1013.1 L2132.6,1008.3 L2133.5,1003.5 L2134.5,998.6 L2135.3,993.6 L2136.2,988.7 L2137.0,983.7 L2137.7,978.6 L2138.5,973.5 L2139.2,968.4 L2139.8,963.3 L2141.0,958.6" fill="none" stroke="#b01c1c" stroke-width="4.2" stroke-linecap="round" stroke-linejoin="round"/>
<path d="M1764.4,1272.0 L1769.1,1270.9 L1773.8,1269.9 L1778.5,1268.8 L1783.1,1267.7 L1787.8,1266.6 L1792.4,1265.5 L1797.1,1264.3 L1801.7,1263.2 L1806.3,1262.0 L1810.9,1260.8 L1815.4,1259.7 L1820.0,1258.4 L1824.5,1257.2 L1829.1,1256.0 L1833.6,1254.7 L1838.1,1253.5 L1842.5,1252.2 L1847.0,1250.9 L1851.4,1249.5 L1855.8,1248.2 L1860.2,1246.8 L1864.6,1245.5 L1869.0,1244.1 L1873.3,1242.7 L1877.7,1241.2 L1882.0,1239.8 L1886.3,1238.3 L1890.5,1236.8 L1894.8,1235.3 L1899.0,1233.7 L1903.2,1232.2 L1907.4,1230.6 L1911.6,1229.0 L1915.7,1227.4 L1919.8,1225.7 L1924.0,1224.1 L1928.1,1222.4 L1932.2,1220.8 L1936.2,1219.1 L1940.3,1217.4 L1944.3,1215.6 L1948.4,1213.9 L1952.4,1212.2 L1956.5,1210.5 L1960.5,1208.7 L1964.5,1207.0 L1968.5,1205.2 L1972.5,1203.4 L1976.5,1201.7 L1980.5,1199.9 L1984.4,1198.1 L1988.3,1196.2 L1992.3,1194.4 L1996.2,1192.5 L2000.0,1190.6 L2003.9,1188.7 L2007.7,1186.8 L2011.5,1184.8 L2015.2,1182.8 L2018.9,1180.7 L2022.6,1178.6 L2026.3,1176.5 L2029.9,1174.3 L2033.4,1172.1 L2036.9,1169.9 L2040.4,1167.5 L2043.8,1165.2 L2047.1,1162.8 L2050.4,1160.3 L2053.7,1157.8 L2056.9,1155.2 L2060.0,1152.6 L2063.1,1149.9 L2066.1,1147.1 L2069.1,1144.3 L2072.0,1141.4 L2074.8,1138.5 L2077.6,1135.5 L2080.4,1132.5 L2083.0,1129.4 L2085.6,1126.2 L2088.2,1123.0 L2090.7,1119.7 L2093.1,1116.4 L2095.4,1112.9 L2097.7,1109.5 L2100.0,1105.9 L2102.2,1102.3 L2104.3,1098.7 L2106.3,1094.9 L2108.3,1091.1 L2110.2,1087.3 L2112.1,1083.4 L2113.9,1079.4 L2115.6,1075.3 L2117.3,1071.2 L2118.9,1067.1 L2120.4,1062.8 L2121.9,1058.5 L2123.3,1054.2 L2124.7,1049.8 L2126.0,1045.3 L2127.3,1040.8 L2128.5,1036.3 L2129.7,1031.6 L2130.8,1027.0 L2131.8,1022.2 L2132.8,1017.4 L2133.8,1012.6 L2134.7,1007.7 L2135.5,1002.8 L2136.3,997.8 L2137.1,992.8 L2137.8,987.7 L2138.5,982.6 L2139.1,977.4 L2139.7,972.2 L2140.2,967.0 L2141.0,962.0" fill="none" stroke="#e4140e" stroke-width="4.2" stroke-linecap="round" stroke-linejoin="round"/>
<path d="M1764.4,1272.0 L1769.1,1270.4 L1774.0,1269.0 L1779.0,1267.6 L1783.9,1266.2 L1788.8,1264.8 L1793.7,1263.4 L1798.6,1261.9 L1803.4,1260.5 L1808.3,1259.0 L1813.1,1257.6 L1817.9,1256.1 L1822.7,1254.6 L1827.5,1253.0 L1832.3,1251.5 L1837.1,1250.0 L1841.8,1248.4 L1846.6,1246.8 L1851.3,1245.2 L1856.0,1243.6 L1860.7,1242.0 L1865.4,1240.4 L1870.0,1238.7 L1874.7,1237.0 L1879.3,1235.3 L1883.9,1233.6 L1888.5,1231.9 L1893.1,1230.2 L1897.7,1228.4 L1902.2,1226.7 L1906.7,1224.9 L1911.3,1223.1 L1915.8,1221.2 L1920.2,1219.4 L1924.7,1217.6 L1929.1,1215.7 L1933.6,1213.8 L1938.0,1211.9 L1942.4,1210.0 L1946.8,1208.0 L1951.1,1206.1 L1955.5,1204.1 L1959.8,1202.1 L1964.1,1200.1 L1968.4,1198.1 L1972.7,1196.0 L1976.9,1193.9 L1981.1,1191.8 L1985.3,1189.7 L1989.5,1187.5 L1993.6,1185.3 L1997.6,1183.1 L2001.7,1180.8 L2005.6,1178.4 L2009.6,1176.0 L2013.4,1173.6 L2017.3,1171.1 L2021.0,1168.5 L2024.7,1165.9 L2028.4,1163.3 L2032.0,1160.6 L2035.5,1157.8 L2039.0,1155.0 L2042.5,1152.1 L2045.9,1149.1 L2049.2,1146.1 L2052.5,1143.1 L2055.7,1140.0 L2058.8,1136.8 L2061.9,1133.6 L2065.0,1130.3 L2068.0,1127.0 L2070.9,1123.6 L2073.8,1120.1 L2076.6,1116.6 L2079.4,1113.1 L2082.1,1109.4 L2084.7,1105.7 L2087.3,1102.0 L2089.8,1098.2 L2092.3,1094.3 L2094.7,1090.4 L2097.0,1086.4 L2099.3,1082.4 L2101.5,1078.3 L2103.7,1074.1 L2105.8,1069.9 L2107.8,1065.6 L2109.8,1061.2 L2111.7,1056.8 L2113.6,1052.4 L2115.4,1047.8 L2117.1,1043.2 L2118.8,1038.6 L2120.4,1033.8 L2122.0,1029.1 L2123.5,1024.2 L2124.9,1019.3 L2126.2,1014.3 L2127.5,1009.3 L2128.8,1004.2 L2129.9,999.0 L2131.0,993.8 L2132.1,988.5 L2133.0,983.1 L2133.9,977.7 L2134.8,972.2 L2135.6,966.6 L2136.3,961.0 L2136.9,955.3 L2137.5,949.6 L2138.0,943.7 L2138.5,937.8 L2138.8,931.9 L2139.2,925.9 L2139.4,919.8 L2139.6,913.6 L2139.7,907.4 L2139.7,901.1 L2140.0,895.0" fill="none" stroke="#f2b422" stroke-width="4.2" stroke-linecap="round" stroke-linejoin="round"/>
<line x1="1764.2" y1="893" x2="1764.2" y2="1280" stroke="#000" stroke-width="2.8"/>
<line x1="1753.7" y1="1272.2" x2="2142" y2="1272.2" stroke="#000" stroke-width="2.8"/>
<line x1="1753.7" y1="893.7" x2="1764.2" y2="893.7" stroke="#000" stroke-width="2.8"/>
<line x1="1753.7" y1="970.5" x2="1764.2" y2="970.5" stroke="#000" stroke-width="2.8"/>
<line x1="1753.7" y1="1046.3" x2="1764.2" y2="1046.3" stroke="#000" stroke-width="2.8"/>
<line x1="1753.7" y1="1121.2" x2="1764.2" y2="1121.2" stroke="#000" stroke-width="2.8"/>
<line x1="1753.7" y1="1195.4" x2="1764.2" y2="1195.4" stroke="#000" stroke-width="2.8"/>
<line x1="1753.7" y1="1272.2" x2="1764.2" y2="1272.2" stroke="#000" stroke-width="2.8"/>
<text x="1721.23" y="902.30" font-size="24.3" fill="#000" textLength="15.34" lengthAdjust="spacingAndGlyphs" >1</text>
<text x="1701.53" y="979.10" font-size="24.3" fill="#000" textLength="37.14" lengthAdjust="spacingAndGlyphs" >0.8</text>
<text x="1701.53" y="1054.90" font-size="24.3" fill="#000" textLength="37.14" lengthAdjust="spacingAndGlyphs" >0.6</text>
<text x="1701.54" y="1129.80" font-size="24.3" fill="#000" textLength="36.86" lengthAdjust="spacingAndGlyphs" >0.4</text>
<text x="1701.52" y="1204.00" font-size="24.3" fill="#000" textLength="37.43" lengthAdjust="spacingAndGlyphs" >0.2</text>
<text x="1723.13" y="1280.80" font-size="24.3" fill="#000" textLength="16.22" lengthAdjust="spacingAndGlyphs" >0</text>
<line x1="1764.2" y1="1272.2" x2="1764.2" y2="1280" stroke="#000" stroke-width="2.8"/>
<text transform="translate(1773.70,1303.39) rotate(-90)" x="-1.91" y="0" font-size="25.5" fill="#000" textLength="14.18" lengthAdjust="spacingAndGlyphs">1</text>
<line x1="1797" y1="1272.2" x2="1797" y2="1280" stroke="#000" stroke-width="2.8"/>
<text transform="translate(1806.50,1317.80) rotate(-90)" x="-1.91" y="0" font-size="25.5" fill="#000" textLength="28.36" lengthAdjust="spacingAndGlyphs">10</text>
<line x1="1832.4" y1="1272.2" x2="1832.4" y2="1280" stroke="#000" stroke-width="2.8"/>
<text transform="translate(1841.90,1317.54) rotate(-90)" x="-1.91" y="0" font-size="25.5" fill="#000" textLength="28.36" lengthAdjust="spacingAndGlyphs">19</text>
<line x1="1864.6" y1="1272.2" x2="1864.6" y2="1280" stroke="#000" stroke-width="2.8"/>
<text transform="translate(1874.10,1318.31) rotate(-90)" x="-1.27" y="0" font-size="25.5" fill="#000" textLength="28.36" lengthAdjust="spacingAndGlyphs">28</text>
<line x1="1899.2" y1="1272.2" x2="1899.2" y2="1280" stroke="#000" stroke-width="2.8"/>
<text transform="translate(1908.70,1318.31) rotate(-90)" x="-1.02" y="0" font-size="25.5" fill="#000" textLength="28.36" lengthAdjust="spacingAndGlyphs">37</text>
<line x1="1933.2" y1="1272.2" x2="1933.2" y2="1280" stroke="#000" stroke-width="2.8"/>
<text transform="translate(1942.70,1319.08) rotate(-90)" x="-0.51" y="0" font-size="25.5" fill="#000" textLength="28.36" lengthAdjust="spacingAndGlyphs">46</text>
<line x1="1968" y1="1272.2" x2="1968" y2="1280" stroke="#000" stroke-width="2.8"/>
<text transform="translate(1977.50,1318.57) rotate(-90)" x="-1.02" y="0" font-size="25.5" fill="#000" textLength="28.36" lengthAdjust="spacingAndGlyphs">55</text>
<line x1="2003.5" y1="1272.2" x2="2003.5" y2="1280" stroke="#000" stroke-width="2.8"/>
<text transform="translate(2013.00,1318.57) rotate(-90)" x="-1.28" y="0" font-size="25.5" fill="#000" textLength="28.36" lengthAdjust="spacingAndGlyphs">64</text>
<line x1="2037" y1="1272.2" x2="2037" y2="1280" stroke="#000" stroke-width="2.8"/>
<text transform="translate(2046.50,1318.31) rotate(-90)" x="-1.27" y="0" font-size="25.5" fill="#000" textLength="28.36" lengthAdjust="spacingAndGlyphs">73</text>
<line x1="2071.6" y1="1272.2" x2="2071.6" y2="1280" stroke="#000" stroke-width="2.8"/>
<text transform="translate(2081.10,1318.18) rotate(-90)" x="-1.15" y="0" font-size="25.5" fill="#000" textLength="28.36" lengthAdjust="spacingAndGlyphs">82</text>
<line x1="2104.3" y1="1272.2" x2="2104.3" y2="1280" stroke="#000" stroke-width="2.8"/>
<text transform="translate(2113.80,1318.31) rotate(-90)" x="-1.15" y="0" font-size="25.5" fill="#000" textLength="28.36" lengthAdjust="spacingAndGlyphs">91</text>
<line x1="2139.6" y1="1272.2" x2="2139.6" y2="1280" stroke="#000" stroke-width="2.8"/>
<text transform="translate(2149.10,1331.95) rotate(-90)" x="-1.91" y="0" font-size="25.5" fill="#000" textLength="42.55" lengthAdjust="spacingAndGlyphs">100</text>
<text transform="translate(1673.70,1324.00) rotate(-90)" x="-2.17" y="0" font-size="27.5" fill="#000" textLength="406.91" lengthAdjust="spacingAndGlyphs">Fraction of uniquely aligned reads</text>
<text x="1690.63" y="1361.00" font-size="27.5" fill="#000" textLength="471.95" lengthAdjust="spacingAndGlyphs" >Fraction of reference transcriptome (%)</text>
<text x="1787.11" y="910.30" font-size="26" fill="#111111" textLength="131.91" lengthAdjust="spacingAndGlyphs" >quant-rep2</text>
<text x="1787.11" y="939.50" font-size="26" fill="#8a8a8a" textLength="131.63" lengthAdjust="spacingAndGlyphs" >quant-rep3</text>
<text x="1787.51" y="969.80" font-size="26" fill="#9c2a2a" textLength="86.97" lengthAdjust="spacingAndGlyphs" >IP-rep1</text>
<text x="1787.44" y="999.50" font-size="26" fill="#c42424" textLength="89.51" lengthAdjust="spacingAndGlyphs" >IP-rep2</text>
<text x="1787.45" y="1028.70" font-size="26" fill="#d6c234" textLength="89.22" lengthAdjust="spacingAndGlyphs" >IP-rep3</text>
</svg></div></body></html>
